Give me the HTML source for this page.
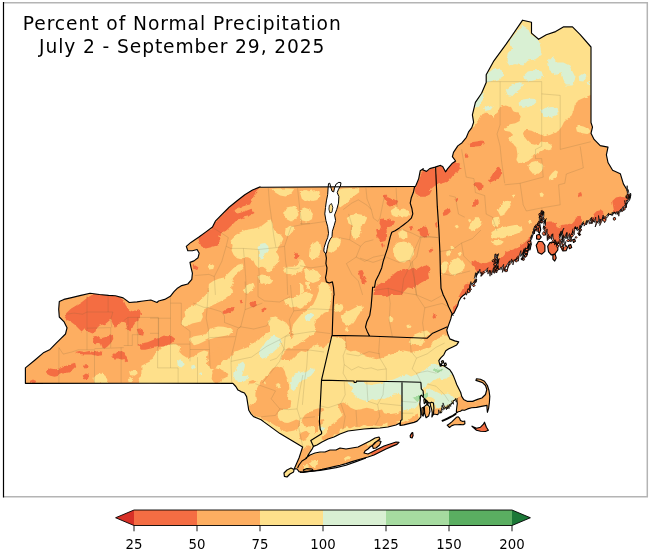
<!DOCTYPE html>
<html><head><meta charset="utf-8"><title>Percent of Normal Precipitation</title>
<style>html,body{margin:0;padding:0;background:#fff}svg{display:block}text{font-family:"DejaVu Sans","Liberation Sans",sans-serif;fill:#000}</style></head><body>
<svg width="650" height="555" viewBox="0 0 650 555">
<rect width="650" height="555" fill="#fff"/>
<defs><clipPath id="land"><path d="M25.4,383.3 L25.4,367.9 L34.7,360.2 L43.9,352.4 L50.1,349.4 L56.2,343.2 L60.8,338.6 L65.5,334 L67,327.8 L63.9,321.6 L59.3,317 L58.7,309.3 L59.3,301.6 L63.9,299.4 L71.6,297.6 L80.9,295.4 L90.1,293.3 L99.4,294.5 L108.6,295.4 L115.4,295.7 L123.1,297.9 L129.3,302.5 L137,301.9 L143.1,301 L150.8,300 L157,302.5 L158.6,301 L164.7,299.4 L170.3,296.3 L174,291.7 L177,288.6 L181.7,285.6 L187.8,284 L191.8,279.4 L192.4,273.2 L190.9,267.1 L190,262.4 L194,260.9 L198,257.8 L199.2,253.2 L197.1,249.5 L192.4,250.7 L187.8,250.7 L186.3,246.4 L190.9,242.4 L198.6,237.2 L206.3,231.6 L212.5,227 L215.6,220.8 L221.7,214.7 L229.4,207 L237.1,200.8 L244.8,194.7 L252.5,190 L260.2,186.9 L260,187.2 L415.6,186.3 L418.7,178.6 L420.2,170.8 L423.3,168.7 L422.6,169.7 L426.5,171.4 L429.7,168.6 L435.1,167.1 L440.5,165.4 L442.7,166.4 L445.5,171.8 L447.7,168.6 L452.4,163.2 L455.6,161 L452.4,156.7 L453.5,152.4 L457.8,145.9 L462.1,142.7 L466.4,137.3 L468.6,131.9 L471.8,127.6 L473.6,122.2 L472.4,114.8 L475.4,102.4 L481.6,93.2 L486.2,82.4 L486.2,74.7 L493.9,60.8 L506.3,43.9 L522.6,20.2 L531.5,22.3 L531.5,33.1 L538.6,39.3 L546.3,34.7 L555.6,31.6 L563.3,26.9 L572.5,26.9 L580.2,34.7 L591,47 L591,122.5 L592.5,127.1 L591,133.3 L594.1,139.4 L600.2,145.6 L608,147.1 L606.4,154.8 L608,162.5 L612.6,170.2 L620.3,173.7 L623.4,183.9 L627.1,190 L629.8,197.4 L628.9,200.2 L625.2,201.1 L626.2,204.8 L623.4,208.5 L619.7,211.2 L616.9,214 L614.2,212.2 L612.3,214.9 L608.6,214 L606.8,216.8 L603.1,217.7 L602.2,220.5 L599.4,219.5 L597.5,222.3 L593.8,221.4 L592,217.7 L590.2,220.5 L587.4,221.4 L585.5,224.2 L582.8,223.2 L580.9,226 L580,231.5 L577.2,229.7 L575.4,226.9 L572.6,231.5 L571.7,236.2 L568.9,238.4 L565.2,237.6 L562.5,235.2 L561.5,231.5 L559.7,235.2 L560.6,239.8 L563.4,242.6 L564.3,246.3 L561.5,245.4 L559.7,243.5 L556.9,242.6 L554.2,239.8 L551,238.4 L548.1,235.4 L545.5,232.1 L543.6,227.8 L544.9,224.2 L543.6,220.5 L543.1,215.8 L541.8,210.7 L540.7,215.8 L541.8,218.1 L539.4,221.4 L537,224.7 L534.8,227.3 L533.8,231.5 L532,236.2 L530.2,241.7 L528.3,247.2 L525.5,252.8 L522.8,257.4 L530.6,244.6 L527.8,248.3 L526,252 L522.3,254.8 L518.6,256.6 L515.8,259.4 L512.2,261.2 L509.4,264 L505.7,266.8 L502.9,268.6 L499.2,269.5 L496.5,267.7 L495.7,260.3 L495.2,254.8 L496.1,254.4 L496.8,260.3 L497.6,267.7 L495.5,270.5 L492.8,272.3 L489.1,270.5 L485.4,271.4 L481.7,273.2 L478.4,272.3 L476.2,275.1 L475.2,277.8 L476.2,281.5 L473.4,283.4 L470.6,284.3 L469.7,288 L467.8,290.8 L466,293.5 L463.2,295.4 L460.5,298.2 L458.6,301.8 L457.7,305.5 L455.8,309.2 L454,312.9 L451.8,314.4 L450.8,318.9 L446.8,330 L447.8,334 L449.8,338.9 L454.7,340.9 L458.7,341.9 L456.7,344.9 L452.7,346.9 L448.8,348.8 L445.8,350.8 L443.8,354.8 L440.8,357.8 L438.8,360.7 L439.8,364.7 L443.8,365.7 L446.8,367.7 L449.8,369.7 L451.7,372.6 L453.7,376.6 L455.3,380.6 L456.7,384.5 L458.7,388.5 L460.7,392.5 L461.7,396.4 L463.6,399.4 L467.6,401.4 L472.6,401.4 L477.5,399.4 L481.9,398 L485.5,394.5 L486.8,389.5 L485.5,385.5 L482.7,382.8 L479.1,381.4 L475.9,380.4 L476.5,378.8 L480.5,379.2 L484.5,381.2 L487.4,385.5 L489,390.5 L489.8,396.4 L489.4,402.4 L488.6,408.3 L487.4,412.3 L487,408.3 L487,405.4 L481.5,406.4 L476.5,407.4 L471.6,407.7 L467.6,408.9 L464.6,410.3 L461.9,410.1 L460.5,411.3 L458.2,411.8 L456.4,412.9 L456.4,410.8 L456.8,407.2 L457.3,403.5 L456.8,400.2 L456.4,398.8 L454.5,400.2 L452.7,401.2 L452,403.5 L450.1,404.8 L448.1,406 L447,408.3 L445.1,407.2 L443.3,406 L442.4,409.2 L440.9,412 L438.8,413.4 L437.5,414.7 L435.2,414.2 L433.5,414.2 L431.9,416.9 L432.3,412.9 L431.6,409.1 L430.6,406 L430.1,403.1 L427.9,402.2 L426.3,400.3 L424.7,399 L423.1,397.1 L421.5,395.2 L420.4,396 L420.2,400.3 L419.9,404.1 L420.4,407.9 L420.8,412.9 L420.9,416.9 L419,419.2 L417.1,421.1 L414,422.4 L408.9,423.6 L403.9,424.9 L400.1,425.5 L400,423 L396,425 L388,427 L380,428 L372,428.4 L364,429 L356,430 L348,431 L340,434 L334,437 L328,439 L322,442 L317,445 L313.4,446.4 L312.4,448.6 L310.2,451.8 L308.1,455.1 L306.5,458.3 L306,458 L310,455 L315,453 L320,452 L325,452 L330,450 L336,450 L340,448 L346,449 L352,448 L358,447 L362,445 L366,443 L370,441 L375,438 L379,437 L380,439 L376,442 L373,445 L370,447 L368,449 L365,451 L364,453 L368,454 L372,452 L378,449 L384,446 L390,444 L396,442 L399,442.4 L397,444.4 L392,446.4 L386,449 L380,452 L374,455 L368,457 L360,459.2 L352,461.6 L346,463.6 L340,465.2 L334,466.6 L328,468 L322,469.4 L314,471 L308,471.6 L303,472.4 L299,471.6 L297,469 L294.4,468.6 L299,458 L301,452 L302.6,447 L280,433.6 L263.9,421.9 L261.1,419.7 L257.5,418.3 L253.8,416.8 L251,413.9 L248.8,410.3 L248.1,406 L247.4,401.7 L246.6,396.6 L244.5,393 L240.9,391.6 L238,390.1 L235.8,386.5 L232.9,383.4 L150,383.2Z M447.2,425.2 L449.5,423.8 L451.8,421.9 L454.1,419.6 L456.4,417.3 L458.2,416.8 L459.6,418.2 L460.5,420.5 L462.8,421.5 L464.7,421 L464.9,423.8 L463.3,424.7 L460.1,424.5 L457.3,424.7 L454.5,424.7 L451.8,425.6 L449.5,427.5Z M472,426.2 L476.5,428.2 L480.5,427.2 L483.5,424.2 L484.5,422.2 L486.4,427.2 L488.4,430.2 L485.5,431.5 L480.5,431.2 L476.5,430.2Z M441.4,361.3 L443,360.5 L443.8,362.5 L442.2,363.3Z M444.2,363.7 L445.8,362.9 L446.4,364.9 L444.8,365.7Z M439.8,364.1 L441.4,363.7 L441.8,365.7 L440.2,366.1Z M372.4,445.6 L375,442.4 L378.4,440.4 L381,441.6 L379.6,445 L376,448 L373.2,448.4Z M410.2,435.6 L411.7,433.1 L412.7,432.5 L413.1,435.6 L412.1,437.9 L410.4,437.5Z M424.3,406.6 L427.2,404.3 L429.4,406.6 L429.9,411.6 L428.6,416.1 L426.1,417.7 L424.7,413.5Z M421.9,407.9 L423.4,407.2 L423.9,411.6 L423.2,416.2 L422.1,414.8Z M423.8,399.7 L425.2,399 L425.7,402.3 L424.3,403.6Z M426.8,400.5 L428.1,402.3 L427.9,405.3 L426.8,403.8Z M455.5,413.6 L452.7,415.5 L449.9,416.8 L447.2,418.2 L444.4,419.6 L442.1,420.5 L442.5,421.2 L444.8,420.3 L447.6,418.9 L450.4,417.5 L453.2,416.1 L455.9,414.3Z M284,473 L287,470 L291,468 L294,469.6 L293.6,472 L290,474 L287,477 L284.4,476.4Z M536.2,245.4 L538.5,241.3 L542.5,241.7 L544.9,245.4 L544.9,251.3 L541.8,254.2 L538.1,252.4Z M536.6,235.2 L539.4,234.3 L541.2,237.1 L539.4,239.5 L536.6,238.9Z M538.5,226 L539.9,225.1 L540.7,229.7 L539.4,233.4 L538.1,231.5Z M547.7,246.3 L549.9,242.6 L554.2,242.1 L557.8,245.4 L557.8,250 L555.1,253.7 L551.4,255 L548.6,251.8Z M552.9,255 L555.1,254.2 L556.2,257.9 L554.7,261.1 L552.9,259.2Z M562.1,246.3 L565.2,245 L567.6,247.2 L566.2,250.6 L562.8,250.9Z M568.4,245.4 L570.8,244.6 L571.7,247.6 L569.5,248.7Z M572.6,239.8 L574.6,239.1 L575.4,241.3 L573.5,242.4Z"/></clipPath><filter id="rag" x="0" y="0" width="650" height="555" filterUnits="userSpaceOnUse"><feTurbulence type="fractalNoise" baseFrequency="0.22" numOctaves="2" seed="3" result="n"/><feDisplacementMap in="SourceGraphic" in2="n" scale="3.2" xChannelSelector="R" yChannelSelector="G"/></filter></defs>
<path d="M3.5,2.8 H647.3 V496.8 H3.5" fill="none" stroke="#b4b4b4" stroke-width="1.5"/>
<path d="M3.5,2 V497.5" fill="none" stroke="#000" stroke-width="1.2"/>
<g clip-path="url(#land)">
<path d="M25.4,383.3 L25.4,367.9 L34.7,360.2 L43.9,352.4 L50.1,349.4 L56.2,343.2 L60.8,338.6 L65.5,334 L67,327.8 L63.9,321.6 L59.3,317 L58.7,309.3 L59.3,301.6 L63.9,299.4 L71.6,297.6 L80.9,295.4 L90.1,293.3 L99.4,294.5 L108.6,295.4 L115.4,295.7 L123.1,297.9 L129.3,302.5 L137,301.9 L143.1,301 L150.8,300 L157,302.5 L158.6,301 L164.7,299.4 L170.3,296.3 L174,291.7 L177,288.6 L181.7,285.6 L187.8,284 L191.8,279.4 L192.4,273.2 L190.9,267.1 L190,262.4 L194,260.9 L198,257.8 L199.2,253.2 L197.1,249.5 L192.4,250.7 L187.8,250.7 L186.3,246.4 L190.9,242.4 L198.6,237.2 L206.3,231.6 L212.5,227 L215.6,220.8 L221.7,214.7 L229.4,207 L237.1,200.8 L244.8,194.7 L252.5,190 L260.2,186.9 L260,187.2 L415.6,186.3 L418.7,178.6 L420.2,170.8 L423.3,168.7 L422.6,169.7 L426.5,171.4 L429.7,168.6 L435.1,167.1 L440.5,165.4 L442.7,166.4 L445.5,171.8 L447.7,168.6 L452.4,163.2 L455.6,161 L452.4,156.7 L453.5,152.4 L457.8,145.9 L462.1,142.7 L466.4,137.3 L468.6,131.9 L471.8,127.6 L473.6,122.2 L472.4,114.8 L475.4,102.4 L481.6,93.2 L486.2,82.4 L486.2,74.7 L493.9,60.8 L506.3,43.9 L522.6,20.2 L531.5,22.3 L531.5,33.1 L538.6,39.3 L546.3,34.7 L555.6,31.6 L563.3,26.9 L572.5,26.9 L580.2,34.7 L591,47 L591,122.5 L592.5,127.1 L591,133.3 L594.1,139.4 L600.2,145.6 L608,147.1 L606.4,154.8 L608,162.5 L612.6,170.2 L620.3,173.7 L623.4,183.9 L627.1,190 L629.8,197.4 L628.9,200.2 L625.2,201.1 L626.2,204.8 L623.4,208.5 L619.7,211.2 L616.9,214 L614.2,212.2 L612.3,214.9 L608.6,214 L606.8,216.8 L603.1,217.7 L602.2,220.5 L599.4,219.5 L597.5,222.3 L593.8,221.4 L592,217.7 L590.2,220.5 L587.4,221.4 L585.5,224.2 L582.8,223.2 L580.9,226 L580,231.5 L577.2,229.7 L575.4,226.9 L572.6,231.5 L571.7,236.2 L568.9,238.4 L565.2,237.6 L562.5,235.2 L561.5,231.5 L559.7,235.2 L560.6,239.8 L563.4,242.6 L564.3,246.3 L561.5,245.4 L559.7,243.5 L556.9,242.6 L554.2,239.8 L551,238.4 L548.1,235.4 L545.5,232.1 L543.6,227.8 L544.9,224.2 L543.6,220.5 L543.1,215.8 L541.8,210.7 L540.7,215.8 L541.8,218.1 L539.4,221.4 L537,224.7 L534.8,227.3 L533.8,231.5 L532,236.2 L530.2,241.7 L528.3,247.2 L525.5,252.8 L522.8,257.4 L530.6,244.6 L527.8,248.3 L526,252 L522.3,254.8 L518.6,256.6 L515.8,259.4 L512.2,261.2 L509.4,264 L505.7,266.8 L502.9,268.6 L499.2,269.5 L496.5,267.7 L495.7,260.3 L495.2,254.8 L496.1,254.4 L496.8,260.3 L497.6,267.7 L495.5,270.5 L492.8,272.3 L489.1,270.5 L485.4,271.4 L481.7,273.2 L478.4,272.3 L476.2,275.1 L475.2,277.8 L476.2,281.5 L473.4,283.4 L470.6,284.3 L469.7,288 L467.8,290.8 L466,293.5 L463.2,295.4 L460.5,298.2 L458.6,301.8 L457.7,305.5 L455.8,309.2 L454,312.9 L451.8,314.4 L450.8,318.9 L446.8,330 L447.8,334 L449.8,338.9 L454.7,340.9 L458.7,341.9 L456.7,344.9 L452.7,346.9 L448.8,348.8 L445.8,350.8 L443.8,354.8 L440.8,357.8 L438.8,360.7 L439.8,364.7 L443.8,365.7 L446.8,367.7 L449.8,369.7 L451.7,372.6 L453.7,376.6 L455.3,380.6 L456.7,384.5 L458.7,388.5 L460.7,392.5 L461.7,396.4 L463.6,399.4 L467.6,401.4 L472.6,401.4 L477.5,399.4 L481.9,398 L485.5,394.5 L486.8,389.5 L485.5,385.5 L482.7,382.8 L479.1,381.4 L475.9,380.4 L476.5,378.8 L480.5,379.2 L484.5,381.2 L487.4,385.5 L489,390.5 L489.8,396.4 L489.4,402.4 L488.6,408.3 L487.4,412.3 L487,408.3 L487,405.4 L481.5,406.4 L476.5,407.4 L471.6,407.7 L467.6,408.9 L464.6,410.3 L461.9,410.1 L460.5,411.3 L458.2,411.8 L456.4,412.9 L456.4,410.8 L456.8,407.2 L457.3,403.5 L456.8,400.2 L456.4,398.8 L454.5,400.2 L452.7,401.2 L452,403.5 L450.1,404.8 L448.1,406 L447,408.3 L445.1,407.2 L443.3,406 L442.4,409.2 L440.9,412 L438.8,413.4 L437.5,414.7 L435.2,414.2 L433.5,414.2 L431.9,416.9 L432.3,412.9 L431.6,409.1 L430.6,406 L430.1,403.1 L427.9,402.2 L426.3,400.3 L424.7,399 L423.1,397.1 L421.5,395.2 L420.4,396 L420.2,400.3 L419.9,404.1 L420.4,407.9 L420.8,412.9 L420.9,416.9 L419,419.2 L417.1,421.1 L414,422.4 L408.9,423.6 L403.9,424.9 L400.1,425.5 L400,423 L396,425 L388,427 L380,428 L372,428.4 L364,429 L356,430 L348,431 L340,434 L334,437 L328,439 L322,442 L317,445 L313.4,446.4 L312.4,448.6 L310.2,451.8 L308.1,455.1 L306.5,458.3 L306,458 L310,455 L315,453 L320,452 L325,452 L330,450 L336,450 L340,448 L346,449 L352,448 L358,447 L362,445 L366,443 L370,441 L375,438 L379,437 L380,439 L376,442 L373,445 L370,447 L368,449 L365,451 L364,453 L368,454 L372,452 L378,449 L384,446 L390,444 L396,442 L399,442.4 L397,444.4 L392,446.4 L386,449 L380,452 L374,455 L368,457 L360,459.2 L352,461.6 L346,463.6 L340,465.2 L334,466.6 L328,468 L322,469.4 L314,471 L308,471.6 L303,472.4 L299,471.6 L297,469 L294.4,468.6 L299,458 L301,452 L302.6,447 L280,433.6 L263.9,421.9 L261.1,419.7 L257.5,418.3 L253.8,416.8 L251,413.9 L248.8,410.3 L248.1,406 L247.4,401.7 L246.6,396.6 L244.5,393 L240.9,391.6 L238,390.1 L235.8,386.5 L232.9,383.4 L150,383.2Z M447.2,425.2 L449.5,423.8 L451.8,421.9 L454.1,419.6 L456.4,417.3 L458.2,416.8 L459.6,418.2 L460.5,420.5 L462.8,421.5 L464.7,421 L464.9,423.8 L463.3,424.7 L460.1,424.5 L457.3,424.7 L454.5,424.7 L451.8,425.6 L449.5,427.5Z M472,426.2 L476.5,428.2 L480.5,427.2 L483.5,424.2 L484.5,422.2 L486.4,427.2 L488.4,430.2 L485.5,431.5 L480.5,431.2 L476.5,430.2Z M441.4,361.3 L443,360.5 L443.8,362.5 L442.2,363.3Z M444.2,363.7 L445.8,362.9 L446.4,364.9 L444.8,365.7Z M439.8,364.1 L441.4,363.7 L441.8,365.7 L440.2,366.1Z M372.4,445.6 L375,442.4 L378.4,440.4 L381,441.6 L379.6,445 L376,448 L373.2,448.4Z M410.2,435.6 L411.7,433.1 L412.7,432.5 L413.1,435.6 L412.1,437.9 L410.4,437.5Z M424.3,406.6 L427.2,404.3 L429.4,406.6 L429.9,411.6 L428.6,416.1 L426.1,417.7 L424.7,413.5Z M421.9,407.9 L423.4,407.2 L423.9,411.6 L423.2,416.2 L422.1,414.8Z M423.8,399.7 L425.2,399 L425.7,402.3 L424.3,403.6Z M426.8,400.5 L428.1,402.3 L427.9,405.3 L426.8,403.8Z M455.5,413.6 L452.7,415.5 L449.9,416.8 L447.2,418.2 L444.4,419.6 L442.1,420.5 L442.5,421.2 L444.8,420.3 L447.6,418.9 L450.4,417.5 L453.2,416.1 L455.9,414.3Z M284,473 L287,470 L291,468 L294,469.6 L293.6,472 L290,474 L287,477 L284.4,476.4Z M536.2,245.4 L538.5,241.3 L542.5,241.7 L544.9,245.4 L544.9,251.3 L541.8,254.2 L538.1,252.4Z M536.6,235.2 L539.4,234.3 L541.2,237.1 L539.4,239.5 L536.6,238.9Z M538.5,226 L539.9,225.1 L540.7,229.7 L539.4,233.4 L538.1,231.5Z M547.7,246.3 L549.9,242.6 L554.2,242.1 L557.8,245.4 L557.8,250 L555.1,253.7 L551.4,255 L548.6,251.8Z M552.9,255 L555.1,254.2 L556.2,257.9 L554.7,261.1 L552.9,259.2Z M562.1,246.3 L565.2,245 L567.6,247.2 L566.2,250.6 L562.8,250.9Z M568.4,245.4 L570.8,244.6 L571.7,247.6 L569.5,248.7Z M572.6,239.8 L574.6,239.1 L575.4,241.3 L573.5,242.4Z" fill="#fdae61"/>
<g filter="url(#rag)">
<path d="M470,129.7 L474.3,126.4 L478.6,121 L481.9,114.6 L486.2,112.4 L490.5,115.6 L493.8,117.8 L497,112.4 L500.2,107 L505.6,105.5 L511,107 L513.2,111.3 L518.6,112.4 L520.8,115.6 L519.7,121 L515.4,123.2 L510,124.3 L505.6,127.5 L504.6,130.8 L510,131.8 L513.2,135.1 L510,137.2 L508.9,140.5 L513.2,143.7 L516.4,148 L517.5,154.5 L516.4,159.9 L518.6,163.2 L525.1,162.1 L529.4,159.9 L533.7,156.7 L537,153.4 L540.2,151.3 L544.5,149.1 L548.9,150.2 L552.1,149.1 L551,144.8 L546.7,142.6 L542.4,141.6 L539.1,143.7 L534.8,144.8 L530.5,143.7 L527.2,140.5 L524,136.2 L522.9,131.8 L526.2,129.7 L531.6,130.8 L535.9,132.9 L540.2,134 L544.5,136.2 L549.9,135.1 L554.3,132.9 L558.6,130.8 L561.8,126.4 L564,122.1 L567.2,118.9 L571.5,115.6 L573.7,110.2 L574.8,104.8 L578,100.5 L582.3,98.4 L587.7,96.2 L593.1,94 L593.1,4.4 L470,4.4Z M575.9,127.5 L579.1,125.4 L583.4,126.4 L587.7,128.6 L589.9,131.8 L586.7,134 L581.3,132.9 L576.9,131.4Z M528.3,165.3 L531.6,162.1 L535.9,161 L540.2,163.2 L543.4,166.4 L541.3,170.7 L537,174 L532.6,173.3 L529.4,169.7Z M548.9,177.2 L552.1,172.9 L555.3,170.3 L558.1,171.8 L556.4,176.1 L553.2,179.8 L549.9,180.5Z M539.6,193.4 L541.7,191.3 L543.9,193.4 L543,196.7 L540.4,196.7Z M500,205.1 L503.2,201.8 L507.6,200.7 L509.7,205.1 L507.6,209.4 L503.2,211.5 L500,211.5Z M528.1,221.3 L530.7,220.2 L532,222.8 L529.4,224.1Z M442,263.1 L444.8,261.2 L447.5,262.2 L447.5,267.7 L445.7,272.3 L442.9,274.2 L441.4,270.5 L441.1,265.8Z M449.4,264.9 L453.1,259.4 L457.7,257.5 L462.3,260.3 L465.1,264.9 L464.2,269.5 L460.5,272.3 L455.8,274.2 L452.2,275.1 L449.4,272.3 L448.5,268.6Z M445.7,252.9 L448.5,251.1 L450.3,253.3 L448.1,255.7Z M450.3,247.4 L452.5,246.5 L453.6,248.9 L451.2,249.6Z M490.9,240.9 L494.6,240 L500.2,240 L503.8,241.8 L501.1,244.6 L496.5,245.5 L492.8,244.1Z M457.7,252.9 L460.5,252 L461.8,254.8 L459.2,256.2Z M497.8,210.7 L501,205.3 L505.3,201 L509.7,201 L510.7,205.3 L507.5,209.7 L504.3,214 L500.4,216.1Z M491.3,221.5 L494.5,217.2 L498.9,216.8 L499.9,221.5 L497.8,225.9 L493.4,226.9Z M468.6,228 L471.8,221.5 L475.1,217.2 L479.4,217.2 L481.6,221.5 L479.4,226.9 L475.1,230.2 L470.8,231.3Z M491.3,232.3 L496.7,229.1 L503.2,226.9 L509.7,225.9 L516.1,224.8 L521.5,225.9 L522.6,230.2 L517.2,233.4 L510.7,235.6 L504.3,237.7 L497.8,238.8 L492.4,237.7Z M454.6,225.9 L457.2,224.8 L458.9,226.9 L456.7,228.4Z M468,219.8 L470.1,218.9 L471.4,221.1 L469.3,222.4Z M511.8,195.6 L514,194.5 L515.1,196.7 L512.9,197.8Z M393.5,250.5 L395.6,245.1 L400,243 L405.4,242.5 L410.8,245.1 L412.9,250.5 L411.8,255.9 L408.6,260.2 L404.3,262.4 L400,262 L396.3,259.2 L394.1,254.8Z M398.9,233.2 L402.1,231.1 L405.8,232.2 L407.1,236 L404.3,239.1 L400.6,238.2Z M446.4,251.6 L449.7,249.9 L451.8,252.7 L449.7,255.5 L446.8,254.8Z M388.1,318.6 L391.3,316.4 L393.5,319 L392,322.5 L388.5,321.8Z M408.6,342.3 L411.8,338 L416.2,333.7 L421.6,331.5 L427,330.5 L430.2,333.3 L425.9,336.9 L420.5,339.1 L416.2,341.3 L411.8,344.1Z M435.6,340.2 L441,338 L446.4,336.9 L449.7,338 L452.9,340.6 L457.6,342.3 L455.1,345.6 L449.7,346.7 L443.2,345.6 L437.8,344.5Z M406.4,326.1 L410.8,325.5 L411.8,327.6 L407.5,328.3Z M360,305.6 L362.6,306.7 L363.2,311 L360,312.1Z M305.4,194.4 L309.7,191.2 L315.1,190.1 L319.4,192.3 L320.5,196.6 L317.3,199.8 L311.9,200.9 L307.6,199.2Z M300,209.6 L304.3,207.4 L309.7,209.6 L313,213.9 L311.9,219.3 L307.6,221.4 L302.2,220.4 L300,218.2Z M337.8,190.1 L343.2,188.4 L350.8,188 L358.3,188.4 L360.5,191.2 L356.2,194.4 L351.8,197.7 L347.5,202 L343.2,205.2 L340,207.4 L337.8,204.2 L338.9,197.7Z M346.4,218.2 L350.8,215 L357.2,213.9 L363.7,215 L367,218.2 L364.8,223.6 L360.5,226.8 L361.6,232.2 L359.4,237.6 L355.1,238.7 L351.8,235.5 L350.8,230.1 L352.9,225.8 L348.6,223.6Z M309.7,248.4 L313,243 L317.3,240.9 L320.5,244.1 L321.6,249.5 L319.4,254.9 L316.2,259.3 L311.9,260.3 L309.1,254.9Z M327,242 L331.3,238.7 L336.7,237.6 L341,239.8 L340,245.2 L336.7,249.5 L332.4,252.8 L328.1,251.7Z M306.5,272.2 L311.9,270.1 L317.3,271.1 L320.5,275.5 L318.4,280.9 L313,283 L307.6,280.9 L305.4,276.5Z M318.4,285.2 L322.7,281.9 L327,283 L330.2,287.3 L331.3,294.9 L319.4,294.9Z M300,259.3 L303.2,261.4 L304.3,266.8 L302.2,271.1 L300,272.2Z M390.7,210.6 L395.1,207.4 L399.4,209.6 L403.7,208.5 L408,210.6 L410.2,215 L405.9,217.1 L400.5,216 L396.1,217.1 L391.8,215Z M392.9,247.4 L397.2,243 L403.7,241.5 L410.2,243 L413.4,247.4 L414.1,253.9 L411.3,259.3 L405.9,261.8 L400.5,261.4 L396.1,258.2 L393.3,252.8Z M398.3,232.2 L402.6,230.1 L406.9,232.2 L407.6,236.6 L403.7,239.4 L399.4,238.1Z M300,283 L303.2,285.2 L304.3,291.7 L300,294.9Z M230.5,239.8 L234.8,235.5 L240.2,232.2 L245.6,230.1 L251,229 L256.4,227.9 L261.8,225.8 L266.1,222.5 L270.5,219.3 L272.6,223.6 L273.7,229 L276.9,233.3 L281.3,235.5 L283.4,238.7 L281.3,243 L278,247.4 L276.9,252.8 L279.1,257.1 L278,262.5 L274.8,265.7 L271.5,270.1 L268.3,272.2 L266.1,269 L262.9,266.8 L258.6,267.9 L255.3,264.7 L253.2,260.3 L249.9,258.2 L245.6,257.1 L241.3,259.3 L237,258.2 L233.7,254.9 L231.6,250.6 L232.6,245.2Z M271.5,189 L278,188.4 L286.7,188.4 L294.2,189 L291,193.4 L285.6,196.6 L280.2,195.5 L274.8,192.3Z M284.5,211.7 L287.7,207.4 L293.1,206.3 L297.5,209.6 L298.5,215 L295.3,219.3 L291,221.4 L286.7,219.3 L284.1,216Z M285.6,229 L289.9,225.8 L294.2,226.8 L293.1,231.2 L289.9,234.4 L286.7,236.6 L284.9,233.3Z M299.6,191.2 L305,190.1 L310,191.2 L310,200.9 L306.1,202 L301.8,198.8Z M283.4,269 L287.7,266.8 L293.1,266.8 L298.5,263.6 L299.6,259.3 L302.9,260.3 L305,264.7 L301.8,270.1 L297.5,273.3 L292.1,275.5 L286.7,274.4Z M207.8,265.7 L211,263.6 L214.3,265.7 L213.2,269 L208.9,269.6Z M225.1,276.5 L229.4,272.2 L233.7,267.9 L238,264.7 L242.4,263.6 L243.4,266.8 L240.2,271.1 L235.9,274.4 L232.6,278.7 L228.3,281.9 L225.1,280.9Z M208.9,284.1 L213.2,280.9 L218.6,278.7 L224,277.6 L228.3,281.9 L231.6,285.2 L228.3,289.5 L224,292.7 L218.6,294.9 L211,294.9 L208.5,289.5Z M257.5,276.5 L261.8,274.4 L267.2,275.5 L271.5,278.7 L270.5,283 L266.1,284.1 L260.7,282.6Z M245.6,287.3 L248.9,284.1 L253.2,283 L254.3,287.3 L251,291.7 L246.7,292.7Z M303.9,270.1 L308.3,269 L310,270.1 L310,276.5 L305.7,276.1Z M305,283 L310,281.9 L310,289.5 L306.1,288.4Z M93.4,377.9 L96.7,374.7 L101,373.6 L105.3,375.7 L107.5,380.1 L106.4,383.3 L94.5,383.3Z M129.1,371.4 L132.3,369.3 L136.7,370.3 L137.7,373.6 L134.5,375.7 L130.2,375.3Z M128,379 L131.3,377.9 L133.4,380.1 L131.3,382.2 L128.4,381.8Z M138.8,381.1 L138.8,377.9 L143.1,374.7 L147.5,371.4 L151.8,368.2 L156.1,364.9 L162.6,361.7 L171.2,358.4 L171.2,383.3 L141,383.3Z M138.8,383.7 L139.7,377.2 L144.3,373.5 L149.8,370.8 L153.5,366.2 L156.3,360.6 L157.2,353.2 L160.9,347.7 L166.5,344.9 L173.8,344 L177.5,347.7 L179.4,353.2 L183.1,356.9 L188.6,358.8 L188.6,383.7Z M184.6,310.6 L188.9,307.4 L194.3,305.2 L198.6,302 L202.9,297.7 L207.2,293.4 L211.6,289 L215.9,285.8 L221.3,283.6 L226.7,281.5 L231,279.3 L233.2,282.6 L231,286.9 L233.2,291.2 L229.9,295.5 L225.6,298.8 L221.3,300.9 L217,303.1 L212.6,305.2 L208.3,307.4 L205.1,309.6 L201.8,312.8 L202.9,317.1 L200.8,321.4 L196.4,322.5 L192.1,323.6 L187.8,325.8 L183.5,326.8 L181.3,323.6 L182.4,319.3 L185.6,316 L184.6,312.8Z M208.3,330.1 L212.6,327.9 L218,326.4 L223.4,326.8 L228.9,327.9 L233.2,330.1 L231,333.3 L226.7,335.5 L221.3,336.6 L215.9,337.6 L211.6,338.7 L207.2,339.8 L202.9,342 L198.6,344.1 L194.3,345.2 L191,343 L190,338.7 L193.2,336.6 L198.6,335.5 L204,334.4 L207.9,332.9Z M242.9,290.1 L246.1,286.9 L250.5,284.7 L253.7,283.6 L254.8,286.9 L251.5,290.1 L248.3,293.4 L244.6,294Z M259.1,277.2 L264.5,276.1 L269.9,277.2 L273.1,280.4 L271,283.6 L266.7,283.2 L262.3,281.5Z M283.9,299.8 L290,297.7 L290,305.2 L286.1,305.2Z M267.7,321.4 L271,318.2 L275.3,317.1 L277.5,320.4 L274.2,323.6 L269.9,325.8Z M141.4,365.7 L150,361.4 L153.2,357.1 L157.6,350.6 L163,347.4 L169.4,345.2 L175.9,344.1 L180.2,347.4 L179.2,351.7 L182.4,354.9 L187.8,358.2 L193.2,357.1 L198.6,352.8 L204,350.6 L208.3,351.7 L207.2,357.1 L208.3,363.6 L210.5,367.9 L214.8,370.1 L219.1,367.9 L223.4,364.7 L226.7,360.3 L231,356 L235.3,351.7 L240.7,349.5 L246.1,347.4 L251.5,344.1 L256.9,340.9 L262.3,337.6 L266.7,333.3 L271,331.2 L277.5,332.2 L282.9,331.2 L288.3,330.1 L290,329 L290,346.3 L286.1,349.5 L282.9,354.9 L279.6,361.4 L275.3,366.8 L269.9,371.1 L264.5,374.4 L259.1,377.6 L253.7,380.9 L249.4,383 L245.1,387.3 L240.7,391.7 L233.2,385.2 L141.4,385.2Z M286.2,301.2 L291.6,298 L297,295.8 L302.4,293.6 L308.9,292.6 L313.2,294.7 L312.1,299 L307.8,302.3 L304.6,306.6 L300.2,308.8 L295.9,306.6 L291.6,307.7 L287.7,305.5Z M297,319.6 L302.4,313.1 L307.8,308.8 L313.2,304.4 L316.4,298 L318.6,291.5 L321.8,288.2 L326.6,287.2 L330.5,290.4 L331.6,296.9 L330.5,304.4 L328.3,310.9 L324,313.1 L320.8,316.3 L316.4,319.6 L314.3,325 L316.4,330.4 L313.2,334.7 L308.9,336.8 L304.6,340.1 L300.2,343.3 L295.9,345.5 L291.6,348.7 L288.4,347.6 L287.3,343.3 L290.5,339 L293.8,334.7 L291.6,330.4 L292.7,325Z M270,317.4 L275.4,316.3 L280.8,319.6 L286.2,322.8 L289.4,327.1 L288.4,332.5 L285.1,336.8 L280.8,335.8 L276.5,336.8 L272.2,335.8 L270,336.8Z M270,349.8 L276.5,347.6 L280.8,358.4 L284,363.9 L288.4,360.6 L292.7,358.4 L297,354.1 L301.3,350.9 L305.6,352 L310,349.8 L313.2,345.5 L317.5,344.4 L321.8,347.6 L326.6,349.8 L326.6,356.3 L320.8,379.6 L321.4,414.6 L270,414.6Z M341.3,317.4 L344.5,313.1 L348.9,310.9 L353.2,308.8 L357.5,306.6 L360.7,305.5 L362.9,307.7 L360.7,312 L357.5,316.3 L355.3,320.6 L352.1,325 L348.9,326 L345.6,323.9 L342.4,321.7Z M334.8,304.4 L338,303.4 L342.4,304.4 L343.4,307.7 L340.2,310.9 L335.9,312 L334.4,308.8Z M344.5,328.2 L347.3,327.1 L348.9,330.4 L346,332.1Z M387.7,317.4 L390.5,315.7 L392.7,317.8 L391,321.3 L388.4,320.6Z M200,360 L340,360 L340,479.9 L200,479.9Z M315,353.8 L322.6,351.6 L328,343 L332.3,336.5 L336.6,337.6 L343.1,338.6 L345.2,343 L346.3,349.4 L350.6,351.6 L355,350.5 L360.4,352.7 L365.8,355.9 L371.2,358.1 L376.6,359.2 L382,358.1 L387.4,355.9 L392.8,353.8 L398.2,351.6 L403.6,350.5 L409,351.6 L414.4,351.6 L419.8,350.5 L425.2,348.4 L430.6,346.2 L433.8,340.8 L438.1,337.6 L444.6,335.4 L479.2,335.4 L479.2,451 L315,451Z" fill="#fee08b"/>
<path d="M207.2,357.1 L210.5,353.9 L214.8,351.7 L217,347.4 L220.2,346.3 L222.4,349.5 L221.3,354.9 L224.5,358.2 L221.3,362.5 L217,365.7 L214.8,370.1 L210.5,367.9 L208.3,363.6Z M212.6,372.2 L217,370.1 L221.3,372.2 L223.4,376.5 L221.3,381.9 L214.8,384.1 L211.6,378.7Z M270,370.3 L275.4,368.2 L280.8,370.3 L285.1,374.7 L287.3,381.1 L286.2,388.7 L288.4,395.2 L287.3,404.9 L270,404.9Z M248.8,406 L251,403.8 L254.6,402.4 L256,399.5 L255.3,395.2 L256,390.9 L257.5,387.3 L259.6,383.7 L262.5,380 L265.4,377.2 L268.3,375 L285.6,375 L287.7,379.3 L288.5,385.1 L287.7,390.9 L287,396.6 L288.5,400.2 L291.3,401.7 L290.6,406 L287.7,408.9 L284.1,409.6 L280.5,410.3 L278.4,413.2 L277.6,416.8 L279.8,420.4 L284.1,422.6 L289.2,423.3 L293.5,421.9 L297.1,420.4 L300,421.2 L299.3,425.5 L297.1,428.4 L294.2,430.5 L290.6,431.3 L287,430.5 L282.7,429.8 L278.4,427.6 L274,424.8 L269.7,421.9 L266.1,420.4 L263.2,419.7 L260.3,417.6 L257.5,416.8 L254.6,415.4 L251.7,413.2 L249.5,409.6Z M268.3,375 L269.7,372.1 L272.6,368.5 L275.5,367.1 L279.8,366.3 L282.7,367.8 L284.9,371.4 L285.6,375Z M305.8,416.8 L309.4,413.9 L313,411.8 L317.3,410.3 L317.3,425.5 L311.5,426.2 L307.9,425.5 L304.3,424 L302.2,421.2Z M299.4,435.6 L302.6,432.4 L306.9,431.3 L309.1,434.5 L306.9,438.9 L303.7,441 L300.5,439.5Z M303.7,448.6 L308,445.3 L311.3,446.4 L309.1,451.8 L305.9,457.2 L301.5,463.7 L298.3,468 L297.2,463.7 L300.5,458.3 L303.3,454Z M211.9,370.8 L216.2,368.6 L221.6,369.7 L225.9,371.9 L228.1,376.2 L223.8,378.4 L218.4,377.3 L214,376.2Z M206.5,362.2 L210.8,360 L217.3,360 L216.2,364.3 L211.9,366.5 L207.6,366Z M248.6,381.6 L252.9,379.9 L256.6,381.2 L254,383.3 L249.7,383.8Z M337.7,404.5 L343.1,402.4 L347.4,404.5 L350.6,407.8 L356,409.9 L361.4,408.9 L366.8,407.8 L372.2,408.9 L377.6,410.4 L382,409.5 L384.1,413.2 L389.5,414.3 L396,413.2 L401,412.1 L401,420.7 L396,421.8 L390.6,420.7 L386.3,422.9 L382,425.1 L377.6,426.1 L372.2,425.1 L367.9,426.1 L363.6,425.1 L359.3,427.2 L355,426.1 L350.6,428.3 L346.3,427.2 L342,429.4 L337.7,430.5 L333.4,432.6 L330.1,433.7 L326.9,431.5 L328,427.2 L332.3,424 L336.6,421.8 L339.8,418.6 L342,414.3 L339.8,409.9Z M400.1,422.4 L403.9,421.7 L407.7,419.8 L411.5,417.3 L415.2,414.8 L417.8,413.5 L418.8,418.6 L417.1,421.7 L414,423 L408.9,424.3 L403.9,425.5 L400.1,426.2Z M387.5,419.8 L393.8,421.1 L397.6,422.4 L400.1,422.4 L400.1,426.2 L387.5,428Z M432.3,411.6 L434.2,409.1 L437.9,408.5 L441.7,407.9 L443,409.7 L440.5,412.3 L437.9,414.2 L434.8,415.4 L432.9,414.8Z M424.1,406.6 L428.5,406.6 L428.5,417.9 L420.9,417.9 L420.9,407.9Z M456.9,397.4 L460.7,396.4 L463.6,399.4 L472.6,401.4 L481.5,397.4 L485.5,389.5 L479.5,380.6 L473.6,379.6 L475.5,376.6 L485.5,378.6 L492.4,389.5 L492.4,415.3 L457.7,415.3Z M443.8,417.3 L467.6,415.3 L467.6,429.2 L443.8,429.2Z M315,414.3 L318.2,415.3 L318.2,431.5 L315,433.7Z M292,460 L306,457 L340,446 L384,434 L404,440 L368,460 L300,475 L292,472Z M301.6,420 L304.8,415.1 L309.2,411.9 L313.5,409.7 L317.8,408.6 L323.2,408.1 L324.3,410.3 L321,411.9 L320,415.1 L316.7,415.7 L314.6,417.3 L314,420 L317.3,420.5 L321,419.4 L325.4,418.9 L324.3,421.6 L321,423.8 L317.8,425.4 L313.5,425.9 L309.2,426.5 L305.4,425.9 L302.7,423.8Z M299.4,434.6 L301.6,432.4 L304.8,431.3 L308.1,431.9 L309.2,434.6 L307,437.3 L304.3,438.3 L302.1,440 L300.5,437.8Z M321.6,436.7 L325.4,434.6 L328.6,432.4 L331.8,429.2 L332.9,424.8 L336.2,423.2 L339.4,424.8 L340.5,429.2 L338.3,433.5 L334,436.2 L329.7,438.3 L325.4,440.5 L322.1,439.4Z M280,421.6 L284.3,423.2 L288.6,422.7 L293,421.1 L296.2,419.4 L299.4,420.5 L300,424.8 L297.3,427 L293,428.1 L289.7,431.3 L286.5,431.9 L283.2,430.2 L280,429.2Z M280,400 L290.8,400 L290.3,404.3 L287.6,407.6 L283.2,409.2 L280,408.6Z M301.6,448.1 L305.4,450.8 L304.3,456.2 L301.6,460.5 L298.4,460.5Z" fill="#fdae61"/>
<path d="M276.2,385.1 L278.4,383.9 L280.5,385.8 L279.5,388.3 L276.9,388Z M262.8,382.2 L265.1,381.5 L266.1,383.7 L264.2,385.1Z M410.1,339.7 L416.5,338.6 L423,339.7 L426.3,343 L420.9,345.1 L414.4,344.7 L410.1,343Z M405.1,388.9 L408.9,386.4 L414,385.1 L419,384.5 L420.9,386.4 L419,388.9 L415.2,391.5 L411.5,392.7 L407.7,394.6 L405.1,393.3Z M310,463 L313,460 L317,460 L318,464 L315,467 L311,467Z M304,466 L307,464.4 L309,467 L307,469.6 L304,469Z M344,458 L348,456 L351,457 L349,460 L345,461Z M366,443 L370,441 L375,438.4 L378.4,437.6 L376.4,441 L372,444 L368,446Z M282,468 L296,467 L296,478 L282,478Z" fill="#fee08b"/>
<path d="M509.3,40.8 L517,31.6 L522.6,25.4 L527.8,28.5 L530.9,34.7 L538.6,39.3 L540.2,47 L541.7,54.7 L535.5,59.3 L527.8,60.8 L523.2,65.5 L515.5,63.9 L509.3,65.5 L506.3,60.8 L507.8,53.1 L512.4,48.5Z M486.2,74.7 L493.9,68.6 L501.6,70.1 L503.2,76.3 L498.6,79.3 L492.4,80.9 L486.2,82.4Z M523.2,76.3 L527.8,71.6 L535.5,70.1 L541.7,71.6 L543.2,76.3 L538.6,79.3 L530.9,80.9 L524.7,80.3Z M547.9,60.8 L552.5,56.2 L557.1,62.4 L563.3,62.4 L569.4,65.5 L572.5,71.6 L575.6,77.8 L572.5,85.5 L566.3,85.5 L563.3,79.3 L561.7,73.2 L555.6,74.7 L549.4,70.1Z M578.7,76.3 L583.3,73.2 L586.4,76.3 L583.3,81.5 L579.3,80.9Z M505.6,89.7 L510,86.5 L515.4,83.2 L520.8,82.2 L524,84.3 L520.8,88.6 L516.4,91.9 L512.1,96.2 L507.8,95.1Z M518.6,102.7 L522.9,99.4 L529.4,98.4 L534.8,99 L537,101.6 L533.7,104.8 L528.3,107 L522.9,107.7 L519.3,105.9Z M541.3,110.2 L545.6,107.7 L552.1,107 L557.5,108.1 L558.6,111.3 L554.3,114.6 L548.9,116.3 L543.4,115.6Z M484,108.1 L488.4,105.5 L492.7,107 L490.5,109.8 L486.2,110.7Z M474.3,103.8 L478.6,97.3 L481.9,93 L485.1,94 L483,99.4 L479.7,104.8 L476.5,108.1Z M586.7,82.2 L589.9,81.1 L590.5,84.3 L587.7,84.8Z M542.1,110 L558.3,110 L557.2,114.3 L552.9,116.5 L547.5,117.6 L543.2,115.4Z M257.5,247.4 L260.7,243.7 L265.1,243 L268.3,246.3 L268.9,250.6 L266.1,253.9 L262.9,254.9 L264,258.2 L260.7,259.7 L258.6,257.1 L259,252.8Z M259.1,351.7 L262.3,347.4 L265.6,342 L269.9,337.6 L275.3,336.6 L280.7,338.7 L281.8,343 L278.5,347.4 L274.2,349.5 L271,353.9 L266.7,357.1 L262.3,358.8 L259.1,356Z M234.3,373.3 L236.4,367.9 L239.7,363.6 L242.9,361.4 L245.1,364.7 L244,370.1 L241.8,374.4 L245.1,376.5 L248.3,375.5 L247.2,379.8 L242.9,381.9 L238.6,381.9 L235.3,378.7Z M177,361.4 L180.2,359.3 L183.5,361 L184.6,364.7 L181.3,367.5 L178.1,365.7Z M191,365.7 L194.3,364.7 L195.8,367.5 L193.2,369.6Z M199.3,373.3 L201.4,372.2 L202.3,374.8 L200.1,376.1Z M270,336.8 L274.3,335.8 L278.6,337.9 L280.8,342.2 L278.6,347.6 L274.3,350.9 L270,352Z M304.6,317.4 L307.8,314.2 L312.1,313.1 L313.2,316.3 L310,319.6 L306.3,321.3Z M291.6,377.9 L294.8,373.6 L299.2,371.4 L304.6,372.5 L310,370.3 L313.2,368.2 L314.3,371.4 L311,375.7 L306.7,377.9 L302.4,380.1 L299.2,383.3 L297,387.6 L293.8,390.9 L290.5,388.7 L291.6,383.3Z M234.6,373 L236.7,367.6 L240,363.2 L243.2,362.2 L244.9,365.4 L243.2,370.8 L241,375.1 L238.9,379.4 L235.6,380.5 L234.1,377.3Z M244.3,376.2 L247.1,375.1 L248.6,377.7 L245.8,379.4Z M290.7,383.8 L292.9,378.4 L295.1,374 L298.3,371.9 L301.5,374 L300.5,379.4 L298.3,383.8 L296.1,388.1 L292.9,390.2 L290.7,388.1Z M302.6,376.2 L305.9,373 L309.1,369.7 L312.8,368.6 L314.1,371.9 L311.3,375.1 L308,377.3 L304.8,379.4Z M319.9,428 L322.7,426.5 L324.2,429.1 L321.6,430.9Z M347.4,381.8 L352.8,382.9 L357.1,381.8 L363.6,381.4 L365.8,384 L370.1,385.1 L376.6,384 L382,382.9 L386.3,380.8 L392.8,379.7 L398.2,377.5 L401.4,375.8 L406.8,374.3 L411.1,376.4 L416.5,374.3 L421.9,372.1 L427.3,368.9 L432.7,365.6 L437.1,364.6 L442.5,366.7 L446.8,370 L444.6,374.3 L439.2,376.4 L434.9,378.6 L431.7,381.8 L427.3,385.1 L423,388.3 L420.9,392.6 L416.5,393.7 L413.3,397 L410.1,401.3 L407.9,405.6 L405.7,409.9 L402.5,412.1 L401.4,403.4 L401.4,394.8 L398.2,393.7 L393.9,394.8 L388.4,397 L384.1,399.1 L379.8,398 L376.6,400.2 L372.2,399.1 L367.9,401.3 L363.6,400.2 L359.3,398.7 L356,395.9 L352.8,393.7 L350.6,390.5 L352.8,387.2 L349.6,385.1Z M402,382.6 L420.9,382.6 L421.3,388.9 L423.1,390.8 L423.4,394.6 L420.3,395.9 L418.8,400.3 L418.4,404.1 L417.1,406.6 L414,407.9 L410.2,409.1 L406.4,409.7 L403.2,411.6 L402,407.9Z M420,372.6 L424,369.7 L428.9,366.7 L432.9,363.7 L436.9,364.7 L439.8,367.7 L444.8,366.7 L448.8,368.7 L451.7,372.6 L449.8,376.6 L445.8,378.6 L441.8,379.6 L438.8,377.6 L435.9,379.6 L431.9,380.6 L427.9,379.2 L424,379.6 L420,380.6Z M425,389.5 L428.9,387.5 L431.9,389.5 L435.9,391.5 L439.8,393.5 L443.8,394.5 L447.8,393.5 L451.7,395.5 L454.7,398.4 L452.7,402.4 L449.8,404.4 L445.8,405.4 L441.8,406.4 L438.8,408.3 L435.9,407.4 L433.9,403.4 L434.9,399.4 L431.9,397.4 L427.9,396.4 L425,393.5Z" fill="#d9f0d3"/>
<path d="M413.3,398 L417.6,395.9 L421.9,394.8 L427.3,392.6 L429.5,394.8 L426.3,398 L421.9,400.2 L416.5,401.3Z M432.7,370 L437.1,368.5 L442.5,368.9 L440.3,371.5 L434.9,372.1Z" fill="#a6dba0"/>
<path d="M418.7,397 L420.9,395.9 L421.9,399.1 L419.8,400.2Z" fill="#5aae61"/>
<path d="M440,167.2 L446.2,162.5 L453.9,161 L458.5,164.1 L461.6,168.7 L455.4,173.3 L449.2,178 L443.1,181 L440,181Z M464.7,154.8 L467.7,154.2 L468.4,157.3 L465.3,157.9Z M470,143.7 L474.3,142.6 L479.7,141.6 L483,142.6 L480.8,145.9 L475.4,146.5 L470,147Z M578,194.5 L580.6,192.8 L581.9,196.2 L579.1,197.1Z M500,169.4 L501.7,170.5 L502.2,174.8 L500,175.9Z M578.2,193.2 L581,192.1 L582.1,195.3 L579.5,196.4Z M612.3,201.1 L616,197.4 L620.6,196.5 L625.2,197.4 L630.8,199.2 L628.9,204.8 L623.4,209.4 L619.7,212.2 L616.9,214.9 L614.2,211.8 L613.2,206.6Z M544,223.2 L547.7,221.4 L552.3,221.4 L556,224.2 L556.9,228.8 L559.7,226.9 L562.5,225.1 L566.2,224.2 L570.8,225.1 L573.5,222.3 L575.4,217.7 L579.1,216.8 L581.8,219.5 L581.8,226.9 L577.2,231.5 L573.5,233.4 L571.7,237.1 L568.4,239.8 L565.2,238.9 L562.8,236.2 L561.5,238.9 L563.4,242.6 L565.2,247.2 L560.6,246.3 L556.9,245.4 L557.8,250 L554.2,252.8 L551.4,254.6 L548.6,251.8 L547.7,247.6 L544.9,246.3 L544,251.8 L540.3,253.7 L537.5,250 L537,245.4 L538.5,241.7 L536.2,238.9 L535.7,235.2 L537.5,231.5 L539.4,227.8 L542.2,225.1Z M593.8,214 L596.6,211.2 L600.3,210.3 L603.1,212.2 L604,215.8 L603.1,220.5 L598.5,222.9 L593.8,221.8 L592.4,217.7Z M520,245.4 L523.7,243.5 L528.3,238.9 L532,235.2 L534.8,232.5 L535.7,236.2 L532.9,240.8 L530.2,245.4 L527.4,250 L523.7,254.6 L520,257.4Z M471.5,262.2 L476.2,260.3 L479.8,263.1 L483.5,264 L487.2,262.2 L491.8,261.2 L496.5,258.5 L501.1,258.5 L503.8,255.7 L506.6,252 L511.2,250.2 L516.8,248.3 L522.3,245.5 L527.8,241.8 L531.5,240 L533.4,245.5 L528.8,250.2 L526,253.8 L522.3,256.6 L517.7,259.4 L513.1,262.2 L509.4,265.8 L504.8,268.6 L501.1,270.5 L496.5,271.4 L492.8,273.2 L488.2,271.4 L483.5,272.7 L479.8,274.2 L477.1,272.3 L474.3,267.7 L472.1,264.9Z M465.1,284.3 L467.8,282.5 L471.5,284.3 L470.2,288.9 L467.8,292.6 L465.1,295.4 L461,299.1 L459.2,295.4 L461.8,290.8 L463.6,287.1Z M453.1,308.3 L455.8,304.6 L458.8,303.7 L458.6,307.4 L456.8,311.1 L454.4,313.8 L451.8,314.6Z M432.8,314.8 L435.2,313.8 L435.9,316.1 L433.7,317.2Z M534.8,239.8 L575.4,238 L575.4,262 L534.8,262Z M436.2,167.5 L440.5,165.8 L442.7,167.1 L445.5,172.3 L448.1,169.3 L452.4,164.3 L456.7,162.1 L461,164.3 L460,168.6 L455.6,171.8 L452.4,176.2 L449.2,180.5 L444.8,182.6 L440.5,183.7 L436.9,182.6Z M420,174 L423.2,170.8 L427.6,171.8 L430.8,169.3 L435.6,168 L436.2,182.6 L433,184.8 L428.6,183.7 L424.3,187 L420,189.1Z M420,191.3 L424.3,189.1 L428.6,188 L431.9,190.2 L429.7,194.5 L425.4,196.7 L420,196.7Z M468.6,143.8 L472.9,142 L478.3,141.2 L482.6,140.5 L483.7,143.8 L479.4,145.9 L474,147 L469.7,147Z M488,180.5 L491.3,176.2 L494.5,170.8 L497.8,166.4 L501,168.6 L502.1,174 L498.9,178.3 L494.5,180.5 L490.2,182.6Z M472.9,183.7 L476.6,182.2 L480.5,182.6 L482.6,185.9 L481.6,190.2 L478.3,189.1 L475.1,187Z M472.9,203.2 L475.7,199.9 L478.3,198.9 L478.8,203.2 L476.6,206.4 L473.6,206.8Z M442.7,212.9 L445.9,209.7 L449.8,208.6 L450.7,211.8 L447,215.1 L443.3,216.1Z M421.1,228 L424.3,225.9 L427.6,228 L426.5,234.5 L423.2,236.7 L421.1,233.4Z M465.4,155.6 L467.5,154.6 L468.6,156.7 L466.4,157.8Z M454.6,198.9 L457.2,197.8 L457.8,200.4 L455.2,201Z M435.1,223.7 L437.3,222.6 L437.7,225.9 L435.6,226.3Z M375.1,287.2 L379.4,284 L384.8,281.8 L390.2,279.7 L393.5,274.3 L397.8,271 L403.2,268.9 L408.6,270 L412.9,267.8 L417.2,268.9 L421.6,266.7 L425.9,264.6 L429.1,267.8 L428,273.2 L429.1,278.6 L424.8,280.8 L420.5,282.9 L416.2,286.2 L411.8,288.3 L407.5,287.2 L404.3,290.5 L400,293.7 L395.6,292.6 L391.3,294.8 L387,297 L382.7,295.9 L379.4,292.6 L376.2,291.6Z M376.2,230 L381.6,230 L385.9,232.2 L387,237.6 L383.8,240.8 L380.5,238.6 L377.3,234.3Z M418.3,230 L427,230 L428,234.3 L424.8,237.6 L420.5,235.4Z M429.1,249.4 L432.4,248.4 L433.4,251.2 L430.2,252Z M360,271 L362.2,270 L363.9,273.2 L362.2,276.4 L360,275.8Z M361.1,280.8 L364.3,279.7 L365.4,282.9 L362.2,284Z M432.4,316.4 L435.2,315.3 L436,318.1 L433.4,319Z M414.1,188 L417.7,181.5 L419.9,175 L442.6,175 L442.6,182.6 L435,185.8 L429.6,190.1 L424.2,194.4 L418.8,195.5 L415.6,193.4Z M383.2,195.5 L386.4,194.4 L388.6,197.7 L392.9,198.8 L397.2,200.9 L395.1,205.2 L390.7,207.4 L387.5,205.2 L385.3,200.9Z M379.9,219.3 L383.2,218.2 L386.4,220.4 L390.7,219.3 L395.1,221.4 L392.9,225.8 L389.7,226.8 L386.4,230.1 L387.5,235.5 L385.3,240.9 L381,242 L377.8,238.7 L376,235.5 L378.9,231.2 L381,226.8 L379.5,223.6Z M381,243.7 L383.8,243 L384.7,246.3 L382.1,247.4Z M419.9,229 L424.2,226.8 L427.5,229 L428.5,233.3 L426.4,237.6 L422.1,236.6 L419.9,233.3Z M409.1,226.8 L412.3,225.8 L413.4,229 L410.6,230.7Z M375.6,287.3 L381,283 L386.4,280.9 L390.7,276.5 L396.1,273.3 L400.5,270.1 L405.9,269 L410.2,272.2 L414.5,270.1 L418.8,267.9 L424.2,264.7 L428.5,265.7 L429.6,270.1 L427.5,275.5 L423.1,279.8 L418.8,283 L413.4,285.2 L408,287.3 L403.7,291.7 L400.5,294.9 L374.5,294.9Z M358.3,271.1 L361.6,270.1 L362.6,274.4 L364.8,278.7 L367,281.9 L363.7,283 L360.5,278.7Z M428.5,249.5 L431.8,248.4 L432.9,251.7 L429.6,252.8Z M435,223.6 L437.2,221.4 L438.3,225.8 L436.1,227.9Z M198.1,237.6 L203.5,233.8 L208.9,230.1 L213.2,229 L216.4,232.2 L218.6,236.6 L219.7,240.9 L218.6,245.2 L214.3,246.3 L210,247.4 L205.6,248.4 L201.3,246.3 L199.2,242Z M192.7,264.7 L195.9,265.7 L198.5,267.5 L197,269 L193.3,267.9Z M294.2,253.9 L297.5,252.8 L298.5,256.7 L296.4,259.3 L294.2,258.2Z M260.2,187.8 L254.6,194.6 L251.5,200.8 L250,204.5 L242.3,206.3 L235.5,209.4 L233.7,211.8 L237.7,213.4 L243.8,211.8 L251.5,208.8 L254.6,213.1 L248.5,216.2 L242.3,217.7 L236.2,220.8 L231.5,225.4 L226.9,230 L222.3,233.1 L219.2,236.2 L216.2,233.1 L213.1,230 L210,226.9 L222.3,214.6 L233.1,203.8 L245.4,193.1 L256.2,185.4Z M66.4,313.1 L70.8,308.8 L76.2,305.5 L81.6,302.3 L87,298 L93.4,294.1 L102.1,294.1 L110.7,294.9 L119.4,297.1 L123.7,300.6 L125.9,305.5 L129.1,309.8 L134.5,312 L139.9,309.8 L141,314.2 L138.8,319.6 L134.5,322.8 L132.3,328.2 L130.2,331.4 L126.9,328.2 L125.9,322.8 L121.5,321.7 L118.3,325 L115.1,328.2 L112.9,323.9 L110.7,319.6 L105.3,323.9 L101,325 L96.7,327.1 L95.6,331.4 L92.4,333.6 L88,331.4 L84.8,328.2 L81.6,331.4 L78.3,328.2 L75.1,325 L70.8,321.7 L66.4,319.6 L64.3,316.3Z M92.4,336.8 L96.7,335.8 L101,337.9 L105.3,336.8 L109.7,335.8 L112.9,334.7 L113.3,339 L110.7,343.3 L107.5,346.6 L104.3,348.7 L101,346.6 L99.9,343.3 L95.6,344.4 L93.4,341.6Z M111.8,355.2 L115.1,352 L119.4,350.9 L123.7,352 L125.9,356.3 L128,360.6 L125.9,362.3 L122.6,359.5 L118.3,358.4 L114,358.4Z M45.9,371.4 L50.2,368.2 L55.6,369.3 L61,368.2 L65.4,366 L70.8,363.9 L75.1,362.8 L76.2,367.1 L72.9,370.3 L68.6,372.5 L63.2,373.6 L58.9,375.7 L54.6,376.8 L50.2,375.7 L47,374Z M137.7,345.5 L142.1,343.3 L147.5,342.2 L152.9,340.1 L158.3,337.9 L162.6,336.8 L171.2,335.8 L175.5,339 L171.2,343.3 L164.7,346.6 L160,346.6 L155,347.6 L149.6,348.7 L145.3,349.8 L141,349.8Z M136.7,329.3 L141,328.2 L144.2,331.4 L143.1,335.8 L138.8,334.7Z M75.1,352 L79.4,350.9 L84.8,352 L89.1,350.9 L94.5,352 L98.9,350.9 L103.2,352 L102.1,355.2 L96.7,355.9 L91.3,354.6 L84.8,354.6 L79.4,354.1Z M82.6,375.7 L85.9,373.6 L89.1,374.7 L88,379 L84.4,379.6Z M83.7,366 L87,363.9 L88.7,366.7 L85.9,368.8Z M29.7,381.1 L33,379.6 L36.2,381.1 L35.1,383.3 L30.4,383.3Z M151.1,342 L155.4,339.8 L159.7,337.6 L164,335.5 L167.3,336.6 L165.1,340.9 L160.8,343 L156.5,345.2 L152.2,346.3 L150,346.3 L150,343Z M222.4,311.7 L225.6,309.6 L228.9,307.4 L233.2,307 L234.3,309.1 L231,311.7 L226.7,313.5 L223.4,313.9Z M249.4,303.1 L252.6,301.4 L255.9,302 L256.9,305.2 L253.7,307.4 L250.5,306.3Z M261.3,309.6 L264.5,307.4 L266.7,308.5 L264.5,311.7 L261.9,312.2Z M239.7,300.5 L241.8,299.8 L242.9,302.7 L240.7,303.5Z M470.6,425.2 L489.4,421.2 L489.4,433.1 L470.6,433.1Z M408.9,431.8 L414,431.8 L414,438.8 L408.9,438.8Z M371,453 L376,450 L382,447 L388,444.4 L395,441.6 L399.6,442 L394,445.6 L388,448 L382,451 L376,454 L372,455.2Z" fill="#f46d43"/>
</g>
<path d="M87,295.8 L87,349.8 M108.1,295.4 L108.1,312 M66.4,314.2 L74,313.1 L82.6,314.2 L87,312 L112.9,312 L110.7,319.6 L111.8,327.6 M87,328.2 L110.7,327.6 L110.7,347.6 M58.9,347.6 L63.2,354.1 L71.8,352 L78.3,349.8 L87,349.8 L94.5,349.8 L94.5,383.3 M94.5,348.7 L123.7,347.6 M58.9,347.6 L58.9,383.3 M121.1,347.6 L121.1,383.3 M128,317.4 L128,345.5 M123.7,345.5 L132.3,345.5 L132.3,334.7 L141,334.7 M123.7,320.6 L128,317.4 L137.7,317.4 L158.3,317.4 M137.7,317.4 L137.7,345.5 M158.3,317.4 L158.3,347.6 M170.5,296.6 L170.5,367.9 M158.6,318.2 L158.6,346.3 M150,318.2 L170.5,318.2 M150,333.3 L158.6,333.3 M170.5,303.1 L181.3,303.1 L181.3,324.7 L190,331.2 L190,361.4 M208.3,288 L207.2,307.4 L206.2,318.2 L208.3,329 L209.4,348.4 L210.1,367.9 M193.2,303.1 L204,307.4 L207.2,307.4 L221.3,311.7 L224.5,316 L224.5,322.5 L238.6,327.9 L240.7,326.8 M245.1,281.5 L246.1,296.6 L245.1,309.6 L240.7,326.8 L237.5,329 L235.3,339.8 L232.1,352.8 L231,361.4 L231.7,383 M258,275 L258,296.6 L264.5,300.9 L279.6,302 L290,296.6 M245.1,309.6 L262.3,303.1 M240.7,326.8 L253.7,329 L266.7,325.8 L271,318.2 M209.4,337.6 L235.3,336.6 M209.4,349.5 L190,349.5 M190,344.1 L170.5,344.1 M157.6,346.3 L157.6,367.9 L178.1,367.9 L178.1,383 M197.5,357.1 L197.5,383 M231,361.4 L251.5,357.1 L266.7,346.3 L279.6,339.8 L290,333.3 M279.6,339.8 L283.9,348.4 L279.6,361.4 L271,372.2 L262.3,383 M268.3,188 L269.4,203.1 L271.5,218.2 L273.7,235.5 L275.9,247.4 M297.5,188 L299.6,207.4 L301.8,224.7 M213.2,227.9 L221.8,233.3 L228.3,237.6 L226.2,246.3 L230.5,248.4 L243.4,248.4 L258.6,249.5 L278,247.4 L284.5,246.3 L291,226.8 L301.8,224.7 L310,223.6 M243.4,248.4 L244.5,261.4 L245.6,276.5 L246.7,294.9 M258.6,249.5 L258.6,265.7 L259.7,283 M284.5,246.3 L285.6,261.4 L286.7,267.9 L295.3,269 L299.6,267.9 M194.8,275.5 L208.9,274.4 L214.3,276.5 L215.4,294.9 M226.2,246.3 L221.8,261.4 L214.3,276.5 M286.7,267.9 L287.7,294.9 M300,223.6 L310.8,223.6 L325.9,221.4 M300,265.7 L310.8,267.9 L325.9,265.7 M343.2,209.6 L351.8,203.1 L358.3,199.8 L367,205.2 L371.3,209.6 L373.4,218.2 L377.8,221.4 M365.9,188 L367,198.8 L371.3,209.6 M348.6,213.9 L351.8,224.7 L349.7,239.8 L360.5,246.3 L364.8,242 L373.4,239.8 M338.9,237.6 L349.7,239.8 M360.5,246.3 L356.2,257.1 L364.8,261.4 L373.4,257.1 L384.3,254.9 M346.4,263.6 L356.2,257.1 M346.4,263.6 L351.8,274.4 L358.3,280.9 L362.6,294.9 M384.3,196.6 L379.9,218.2 L377.8,221.4 M396.1,188 L397.2,207.4 M391.8,232.2 L401.5,229 L412.3,233.3 L421,237.6 L429.6,236.6 L438.3,237.6 M421,237.6 L416.7,257.1 L412.3,261.4 L414.5,278.7 L416.7,294.9 M401.5,294.9 L403.7,278.7 L412.3,261.4 M486.2,81.6 L541.7,81.6 L541.7,93.9 L560.2,95.4 L560.2,149.4 L591,141.7 M500.1,81.6 L500.1,124.7 L497,134 L500.1,146.3 L501.6,161.7 L504.7,183.3 M541.7,93.9 L541.7,146.3 L535.5,149.4 L535.5,158.6 L541.7,158.6 L543.2,177.1 L520.1,183.3 L504.7,184.8 M580.2,146.3 L583.3,167.9 L566.3,174 L564.8,183.3 L558.6,184.8 L560.2,204.8 L541.7,207.9 L543.2,214.1 M520.1,183.3 L523.2,204.8 L526.3,211 L541.7,207.9 M461.6,149.4 L466.2,177.1 L473.9,178.6 L475.4,192.5 L484.7,195.6 L486.2,214.1 L492.4,217.2 L497,231 M449.2,195.6 L455.4,197.1 L458.5,214.1 L464.7,217.2 M345.2,336 L346.3,347.3 L343.1,355.9 L344.2,364.6 L343.1,373.2 L347.4,380.8 M344.2,364.6 L351.7,370 L358.2,366.7 L364.7,368.9 L371.2,367.8 L377.6,370 L386.3,368.9 L386.3,380.8 M379.8,336.5 L378.7,351.6 L379.8,358.1 L386.3,368.9 M346.3,353.8 L358.2,355.9 L369,351.6 L379.8,353.8 M410.1,338.2 L411.1,351.6 L416.5,358.1 L412.2,368.9 L416.5,373.2 L420.9,381.8 M416.5,358.1 L427.3,353.8 L436,347.3 L444.6,343 M416.5,373.2 L427.3,371 L436,373.2 L442.5,368.9 M427.3,384 L436,386.2 L444.6,394.8 L448.9,401.3 M344.2,381.8 L345.2,394.8 L340.9,403.4 L345.2,416.4 L343.1,429.4 M366.8,381.8 L367.9,401.3 L377.6,404.5 L379.8,416.4 L375.5,425.1 M384.1,381.8 L383,394.8 L377.6,404.5 M379.8,403.4 L401.4,405.6 M356,409.9 L357.1,427.2 M340.9,403.4 L328,407.8 L319.3,405.6 M401.4,401.3 L416.5,402.4 M401.4,413.2 L413.3,413.2 M255.3,383.7 L275.5,390.9 L271.2,398.8 L279.8,408.9 L275.5,415.4 L261.1,416.8 M279.8,408.9 L288.5,409.6 L297.1,408.9 L300,418.3 L298.6,426.9 L302.9,447.1 M297.1,408.9 L300,389.4 L302.9,375 M300,418.3 L315,416.8 M290.5,285 L291.6,298 L293.8,310.9 L289.4,319.6 L291.6,334.7 L285.1,336.8 L284,349.8 L276.5,358.4 L270,360.6 M291.6,334.7 L313.2,331.4 L330.5,333.6 M293.8,310.9 L313.2,308.8 L332.6,309.8 M307.8,349.8 L306.7,367.1 L304.6,380.1 L302.4,404.9 M284,349.8 L307.8,349.8 L324,352 M360,258.1 L373,262.4 L385.9,258.1 M385.9,257 L398.9,262.4 L409.7,260.2 L420.5,236.5 L437.8,237.6 M409.7,260.2 L414,277.5 L416.2,294.8 M373.4,290.5 L388.1,288.3 L403.2,292.6 L416.2,294.8 L431.3,301.3 L443.2,294.8 M388.1,288.3 L390.2,303.4 L389.2,320.7 L392.4,336.9 M416.2,294.8 L424.8,307.8 L422.6,322.9 L424.8,338 M424.8,307.8 L442.1,303.4 L448.6,306.7 M439.9,251.6 L452.9,249.4 L461.5,243 L472.3,238.6 L481,230 M461.5,243 L463.7,255.9 L472.3,264.6 M440.4,273.2 L450.7,275.4 L461.5,273.2 L470.2,271" fill="none" stroke="#6b5a3a" stroke-opacity="0.35" stroke-width="0.5"/>
</g>
<path d="M328.5,183.6 L329.8,183.2 L330.7,186.9 L332,191.2 L333.7,191.9 L334.6,187.5 L336.1,184.1 L338.9,182.3 L341,182.8 L340.4,186.2 L338.5,189.3 L337.2,192.7 L338.9,196.6 L338.5,203.1 L336.7,209.6 L334.6,215 L335.6,220.4 L334.1,225.8 L332.4,231.2 L332,236.6 L329.8,239.8 L328.1,244.1 L327,249.5 L326.4,253.2 L325.1,253.2 L323.8,251 L324.2,247.4 L325.9,242 L327.7,237.6 L328.5,233.3 L327.7,226.8 L325.9,220.4 L324.8,213.9 L325.5,207.4 L326.4,200.9 L327.7,194.4 L328.1,188Z" fill="#fff" stroke="#000" stroke-width="1"/>
<path d="M329.4,205.2 L331.5,203.5 L332.8,207.4 L332,212.2 L329.8,212.8 L328.9,209.1Z" fill="#fee08b" stroke="#000" stroke-width="0.8"/>
<path d="M25.4,383.3 L25.4,367.9 L34.7,360.2 L43.9,352.4 L50.1,349.4 L56.2,343.2 L60.8,338.6 L65.5,334 L67,327.8 L63.9,321.6 L59.3,317 L58.7,309.3 L59.3,301.6 L63.9,299.4 L71.6,297.6 L80.9,295.4 L90.1,293.3 L99.4,294.5 L108.6,295.4 L115.4,295.7 L123.1,297.9 L129.3,302.5 L137,301.9 L143.1,301 L150.8,300 L157,302.5 L158.6,301 L164.7,299.4 L170.3,296.3 L174,291.7 L177,288.6 L181.7,285.6 L187.8,284 L191.8,279.4 L192.4,273.2 L190.9,267.1 L190,262.4 L194,260.9 L198,257.8 L199.2,253.2 L197.1,249.5 L192.4,250.7 L187.8,250.7 L186.3,246.4 L190.9,242.4 L198.6,237.2 L206.3,231.6 L212.5,227 L215.6,220.8 L221.7,214.7 L229.4,207 L237.1,200.8 L244.8,194.7 L252.5,190 L260.2,186.9 L260,187.2 L415.6,186.3 L418.7,178.6 L420.2,170.8 L423.3,168.7 L422.6,169.7 L426.5,171.4 L429.7,168.6 L435.1,167.1 L440.5,165.4 L442.7,166.4 L445.5,171.8 L447.7,168.6 L452.4,163.2 L455.6,161 L452.4,156.7 L453.5,152.4 L457.8,145.9 L462.1,142.7 L466.4,137.3 L468.6,131.9 L471.8,127.6 L473.6,122.2 L472.4,114.8 L475.4,102.4 L481.6,93.2 L486.2,82.4 L486.2,74.7 L493.9,60.8 L506.3,43.9 L522.6,20.2 L531.5,22.3 L531.5,33.1 L538.6,39.3 L546.3,34.7 L555.6,31.6 L563.3,26.9 L572.5,26.9 L580.2,34.7 L591,47 L591,122.5 L592.5,127.1 L591,133.3 L594.1,139.4 L600.2,145.6 L608,147.1 L606.4,154.8 L608,162.5 L612.6,170.2 L620.3,173.7 L623.4,183.9 L627.1,190 L629.8,197.4 L628.9,200.2 L625.2,201.1 L626.2,204.8 L623.4,208.5 L619.7,211.2 L616.9,214 L614.2,212.2 L612.3,214.9 L608.6,214 L606.8,216.8 L603.1,217.7 L602.2,220.5 L599.4,219.5 L597.5,222.3 L593.8,221.4 L592,217.7 L590.2,220.5 L587.4,221.4 L585.5,224.2 L582.8,223.2 L580.9,226 L580,231.5 L577.2,229.7 L575.4,226.9 L572.6,231.5 L571.7,236.2 L568.9,238.4 L565.2,237.6 L562.5,235.2 L561.5,231.5 L559.7,235.2 L560.6,239.8 L563.4,242.6 L564.3,246.3 L561.5,245.4 L559.7,243.5 L556.9,242.6 L554.2,239.8 L551,238.4 L548.1,235.4 L545.5,232.1 L543.6,227.8 L544.9,224.2 L543.6,220.5 L543.1,215.8 L541.8,210.7 L540.7,215.8 L541.8,218.1 L539.4,221.4 L537,224.7 L534.8,227.3 L533.8,231.5 L532,236.2 L530.2,241.7 L528.3,247.2 L525.5,252.8 L522.8,257.4 L530.6,244.6 L527.8,248.3 L526,252 L522.3,254.8 L518.6,256.6 L515.8,259.4 L512.2,261.2 L509.4,264 L505.7,266.8 L502.9,268.6 L499.2,269.5 L496.5,267.7 L495.7,260.3 L495.2,254.8 L496.1,254.4 L496.8,260.3 L497.6,267.7 L495.5,270.5 L492.8,272.3 L489.1,270.5 L485.4,271.4 L481.7,273.2 L478.4,272.3 L476.2,275.1 L475.2,277.8 L476.2,281.5 L473.4,283.4 L470.6,284.3 L469.7,288 L467.8,290.8 L466,293.5 L463.2,295.4 L460.5,298.2 L458.6,301.8 L457.7,305.5 L455.8,309.2 L454,312.9 L451.8,314.4 L450.8,318.9 L446.8,330 L447.8,334 L449.8,338.9 L454.7,340.9 L458.7,341.9 L456.7,344.9 L452.7,346.9 L448.8,348.8 L445.8,350.8 L443.8,354.8 L440.8,357.8 L438.8,360.7 L439.8,364.7 L443.8,365.7 L446.8,367.7 L449.8,369.7 L451.7,372.6 L453.7,376.6 L455.3,380.6 L456.7,384.5 L458.7,388.5 L460.7,392.5 L461.7,396.4 L463.6,399.4 L467.6,401.4 L472.6,401.4 L477.5,399.4 L481.9,398 L485.5,394.5 L486.8,389.5 L485.5,385.5 L482.7,382.8 L479.1,381.4 L475.9,380.4 L476.5,378.8 L480.5,379.2 L484.5,381.2 L487.4,385.5 L489,390.5 L489.8,396.4 L489.4,402.4 L488.6,408.3 L487.4,412.3 L487,408.3 L487,405.4 L481.5,406.4 L476.5,407.4 L471.6,407.7 L467.6,408.9 L464.6,410.3 L461.9,410.1 L460.5,411.3 L458.2,411.8 L456.4,412.9 L456.4,410.8 L456.8,407.2 L457.3,403.5 L456.8,400.2 L456.4,398.8 L454.5,400.2 L452.7,401.2 L452,403.5 L450.1,404.8 L448.1,406 L447,408.3 L445.1,407.2 L443.3,406 L442.4,409.2 L440.9,412 L438.8,413.4 L437.5,414.7 L435.2,414.2 L433.5,414.2 L431.9,416.9 L432.3,412.9 L431.6,409.1 L430.6,406 L430.1,403.1 L427.9,402.2 L426.3,400.3 L424.7,399 L423.1,397.1 L421.5,395.2 L420.4,396 L420.2,400.3 L419.9,404.1 L420.4,407.9 L420.8,412.9 L420.9,416.9 L419,419.2 L417.1,421.1 L414,422.4 L408.9,423.6 L403.9,424.9 L400.1,425.5 L400,423 L396,425 L388,427 L380,428 L372,428.4 L364,429 L356,430 L348,431 L340,434 L334,437 L328,439 L322,442 L317,445 L313.4,446.4 L312.4,448.6 L310.2,451.8 L308.1,455.1 L306.5,458.3 L306,458 L310,455 L315,453 L320,452 L325,452 L330,450 L336,450 L340,448 L346,449 L352,448 L358,447 L362,445 L366,443 L370,441 L375,438 L379,437 L380,439 L376,442 L373,445 L370,447 L368,449 L365,451 L364,453 L368,454 L372,452 L378,449 L384,446 L390,444 L396,442 L399,442.4 L397,444.4 L392,446.4 L386,449 L380,452 L374,455 L368,457 L360,459.2 L352,461.6 L346,463.6 L340,465.2 L334,466.6 L328,468 L322,469.4 L314,471 L308,471.6 L303,472.4 L299,471.6 L297,469 L294.4,468.6 L299,458 L301,452 L302.6,447 L280,433.6 L263.9,421.9 L261.1,419.7 L257.5,418.3 L253.8,416.8 L251,413.9 L248.8,410.3 L248.1,406 L247.4,401.7 L246.6,396.6 L244.5,393 L240.9,391.6 L238,390.1 L235.8,386.5 L232.9,383.4 L150,383.2Z M447.2,425.2 L449.5,423.8 L451.8,421.9 L454.1,419.6 L456.4,417.3 L458.2,416.8 L459.6,418.2 L460.5,420.5 L462.8,421.5 L464.7,421 L464.9,423.8 L463.3,424.7 L460.1,424.5 L457.3,424.7 L454.5,424.7 L451.8,425.6 L449.5,427.5Z M472,426.2 L476.5,428.2 L480.5,427.2 L483.5,424.2 L484.5,422.2 L486.4,427.2 L488.4,430.2 L485.5,431.5 L480.5,431.2 L476.5,430.2Z M441.4,361.3 L443,360.5 L443.8,362.5 L442.2,363.3Z M444.2,363.7 L445.8,362.9 L446.4,364.9 L444.8,365.7Z M439.8,364.1 L441.4,363.7 L441.8,365.7 L440.2,366.1Z M372.4,445.6 L375,442.4 L378.4,440.4 L381,441.6 L379.6,445 L376,448 L373.2,448.4Z M410.2,435.6 L411.7,433.1 L412.7,432.5 L413.1,435.6 L412.1,437.9 L410.4,437.5Z M424.3,406.6 L427.2,404.3 L429.4,406.6 L429.9,411.6 L428.6,416.1 L426.1,417.7 L424.7,413.5Z M421.9,407.9 L423.4,407.2 L423.9,411.6 L423.2,416.2 L422.1,414.8Z M423.8,399.7 L425.2,399 L425.7,402.3 L424.3,403.6Z M426.8,400.5 L428.1,402.3 L427.9,405.3 L426.8,403.8Z M455.5,413.6 L452.7,415.5 L449.9,416.8 L447.2,418.2 L444.4,419.6 L442.1,420.5 L442.5,421.2 L444.8,420.3 L447.6,418.9 L450.4,417.5 L453.2,416.1 L455.9,414.3Z M284,473 L287,470 L291,468 L294,469.6 L293.6,472 L290,474 L287,477 L284.4,476.4Z M536.2,245.4 L538.5,241.3 L542.5,241.7 L544.9,245.4 L544.9,251.3 L541.8,254.2 L538.1,252.4Z M536.6,235.2 L539.4,234.3 L541.2,237.1 L539.4,239.5 L536.6,238.9Z M538.5,226 L539.9,225.1 L540.7,229.7 L539.4,233.4 L538.1,231.5Z M547.7,246.3 L549.9,242.6 L554.2,242.1 L557.8,245.4 L557.8,250 L555.1,253.7 L551.4,255 L548.6,251.8Z M552.9,255 L555.1,254.2 L556.2,257.9 L554.7,261.1 L552.9,259.2Z M562.1,246.3 L565.2,245 L567.6,247.2 L566.2,250.6 L562.8,250.9Z M568.4,245.4 L570.8,244.6 L571.7,247.6 L569.5,248.7Z M572.6,239.8 L574.6,239.1 L575.4,241.3 L573.5,242.4Z" fill="none" stroke="#000" stroke-width="1.15" stroke-linejoin="round"/>
<path d="M325.5,253.2 L326.4,258.2 L325.9,263.6 L327,267.9 L326.4,273.3 L325.5,277.6 L326.4,281.9 L329.2,283 L332.4,281.9 L333.5,287.3 L334.1,294.9 L333.7,295.8 L333.1,306.6 L332.2,335.1 M331.9,335.4 L321.5,380.1 L320.5,400 L319.4,421.6 L320.2,429.2 L321.6,431.9 L321.6,433.7 L310.8,440.5 L313.5,446.4 M306.5,458.3 L302,461 L299,465 L297.6,468 M366,458 L356,461.6 L346,465.2 L336,467.6 L326,469.4 L320,470.4 M300,472.4 L306,471.8 L312,471.2 L320,470.4 M303,470 L307,468.6 L312,469 L313,470.4 L308,471.4 L304,471.2 L303,470 M331.9,335.4 L366.8,336 L427.3,338.2 L432.7,333.2 L447.4,326.8 M414.5,186.9 L413.4,192.3 L411.3,197.7 L410.2,203.1 L411.9,208.5 L412.8,213.9 L411.3,218.2 L408,221.4 L403.7,224.7 L399.4,227.9 L395.1,230.7 L391.8,232.2 L390.3,236.6 L389,242 L387.5,248.4 L385.3,254.9 L383.2,261.4 L381.7,267.9 L378.9,274.4 L375.6,280.9 L374.5,287.3 L372.6,287.2 L372,295.8 L371.1,306.6 L369.8,315.2 L366.8,321.7 L365.5,327.1 L367.2,331.4 L369.8,336.4 M435.6,167.1 L437.3,206.4 L438.9,230 L439.9,251.6 L440.4,273.2 L441,288.3 L443.2,294.8 L446.4,301.3 L448.6,306.7 L451.8,313.2 L453.3,315.8 M321.5,380.1 L353.9,381 L354.3,382.5 L356,382.5 L356.5,381 L401.4,381.8 L420.9,382.3 M402,382.4 L402,419.8 L400.7,420.5 L400.1,425.5 M420.9,382.4 L421.3,388.9 L423.1,390.8 L423.4,394.6 L423.1,397.1 M430.1,403.1 L431.6,402.2 L433.5,403.1 L433.9,407.9 L433.5,414.2" fill="none" stroke="#000" stroke-width="1.15" stroke-linejoin="round"/>
<path d="M627.0,190.7 L627.8,195.5 L628.2,190.7 M628.2,193.4 L627.5,197.8 L629.9,194.1 M624.4,200.3 L625.6,205.8 L626.4,200.2 M625.2,203.2 L626.2,207.8 L626.6,203.1 M623.0,207.0 L623.4,210.3 L624.9,207.3 M620.9,209.0 L620.8,212.2 L622.2,209.4 M618.3,211.2 L618.8,216.2 L619.5,211.2 M608.5,212.9 L607.9,216.2 L610.2,213.8 M604.9,216.1 L604.6,222.7 L606.9,216.5 M603.7,216.2 L602.2,220.6 L605.6,217.4 M601.0,219.2 L599.7,225.6 L602.6,219.8 M599.6,218.8 L598.9,223.6 L600.8,219.1 M596.4,221.2 L595.2,227.0 L597.6,221.6 M592.3,218.8 L592.0,223.7 L594.2,219.3 M591.5,217.3 L590.9,224.0 L593.5,217.8 M586.2,221.3 L586.4,225.0 L587.8,221.5 M583.8,222.8 L584.1,226.1 L586.1,223.5 M579.4,230.5 L579.2,234.7 L580.6,230.8 M572.6,228.8 L574.1,234.9 L574.9,228.7 M571.9,233.0 L570.6,237.6 L573.0,233.5 M570.2,236.0 L571.2,241.7 L571.7,235.9 M563.8,235.5 L561.6,240.7 L565.1,236.2 M561.9,234.7 L563.0,237.5 L563.7,234.6 M561.0,230.9 L559.6,234.7 L562.4,231.7 M559.3,234.0 L559.6,237.0 L560.6,234.1 M560.2,238.4 L557.5,244.5 L561.8,239.3 M563.2,243.8 L563.4,248.9 L564.8,244.0 M562.3,244.8 L561.8,249.2 L563.8,245.3 M559.0,243.4 L560.5,247.6 L561.3,243.2 M556.8,241.9 L557.1,245.3 L558.2,242.1 M555.2,241.0 L556.2,244.1 L557.1,241.0 M554.5,239.8 L554.7,245.1 L555.7,239.9 M553.3,238.4 L551.3,243.5 L555.2,239.6 M549.7,236.2 L548.3,239.6 L550.8,236.8 M548.0,234.9 L547.7,238.6 L550.0,235.7 M546.9,234.0 L547.3,240.7 L548.5,234.1 M544.9,231.5 L545.5,235.2 L546.6,231.6 M543.2,217.8 L542.3,220.6 L544.5,218.6 M541.3,210.1 L541.0,215.9 L542.7,210.4 M540.3,213.8 L539.0,218.0 L542.2,215.0 M541.1,217.2 L541.5,221.5 L542.5,217.3 M540.5,218.4 L539.6,223.7 L541.8,218.7 M538.8,220.9 L537.1,225.2 L540.0,221.6 M535.6,224.7 L535.0,228.8 L537.2,225.3 M534.6,225.9 L533.7,230.5 L536.2,226.5 M533.3,229.2 L534.4,234.0 L535.0,229.1 M529.5,241.2 L529.1,247.2 L531.0,241.4 M528.8,242.7 L528.7,248.6 L530.5,242.9 M528.8,244.0 L527.7,247.3 L530.1,244.8 M526.4,248.7 L527.1,255.3 L527.9,248.7 M523.8,254.1 L522.5,258.6 L525.1,254.7 M525.1,251.5 L523.4,256.0 L527.0,252.8 M526.4,249.1 L526.9,252.9 L528.3,249.4 M527.2,247.7 L527.2,253.9 L529.3,248.1 M528.9,245.2 L530.0,249.0 L530.5,245.1 M529.8,243.7 L529.8,250.4 L531.6,243.9 M528.7,245.1 L529.9,249.5 L530.4,245.0 M526.3,248.9 L526.4,252.2 L528.2,249.4 M525.7,250.4 L525.3,256.8 L527.2,250.7 M524.8,251.4 L523.2,257.0 L526.6,252.2 M517.9,255.8 L518.3,261.2 L519.2,255.9 M517.1,256.8 L515.8,261.1 L518.4,257.4 M513.0,259.7 L512.9,265.0 L514.3,259.8 M509.4,262.3 L508.4,265.8 L511.1,263.4 M508.2,263.6 L507.2,270.3 L509.4,264.0 M503.8,266.5 L504.6,269.9 L505.9,266.7 M502.9,267.3 L502.4,272.4 L504.3,267.7 M495.5,264.6 L495.0,269.0 L497.7,265.5 M495.1,259.8 L493.7,265.2 L497.2,260.8 M494.8,256.6 L493.9,261.2 L496.8,257.6 M495.1,254.4 L496.5,259.6 L497.1,254.3 M495.9,258.9 L495.8,263.9 L498.0,259.4 M497.1,265.1 L496.3,268.2 L498.7,266.1 M493.2,270.6 L494.4,273.4 L495.2,270.5 M490.5,270.9 L491.7,275.1 L492.4,270.8 M489.3,270.2 L490.0,276.2 L490.9,270.2 M487.7,269.6 L487.9,274.1 L489.8,270.1 M483.7,270.9 L481.0,276.5 L485.3,271.9 M482.1,271.6 L480.8,275.8 L483.9,272.6 M475.3,278.7 L474.8,282.3 L476.6,279.2 M469.7,284.7 L469.6,289.4 L471.1,285.0 M465.6,291.8 L466.4,295.2 L467.6,291.9" fill="#f46d43" stroke="#000" stroke-width="0.7" stroke-linejoin="round"/>
<path d="M626.5,190.8 L627.2,185.7 L627.6,190.8 M627.3,193.8 L628.1,189.5 L629.1,193.8 M629.0,198.2 L630.7,193.0 L630.2,198.4 M628.2,199.5 L631.0,194.7 L629.7,200.1 M627.5,200.7 L630.1,196.5 L628.9,201.3 M624.9,205.8 L628.5,200.8 L625.8,206.4 M623.6,206.9 L627.2,202.6 L625.2,207.8 M621.6,209.7 L623.1,206.6 L623.4,210.0 M619.3,211.4 L621.3,208.7 L620.2,211.9 M615.6,214.4 L617.0,211.3 L617.3,214.7 M611.4,215.6 L612.3,212.2 L612.6,215.7 M605.9,216.7 L608.5,213.5 L607.5,217.5 M602.3,218.9 L603.2,215.1 L603.5,219.0 M601.4,220.3 L603.0,217.3 L603.2,220.6 M598.3,221.1 L598.5,215.5 L599.5,221.0 M594.4,222.5 L595.7,217.1 L595.9,222.6 M588.5,221.0 L591.4,217.9 L589.7,221.8 M585.2,224.1 L587.0,220.2 L586.2,224.4 M581.3,224.6 L583.5,221.5 L582.3,225.1 M579.6,227.2 L582.9,223.5 L581.0,228.0 M579.5,230.9 L579.9,225.5 L581.1,230.8 M577.4,230.8 L581.5,226.0 L578.7,231.6 M576.3,230.4 L577.5,226.9 L577.9,230.6 M568.7,238.2 L571.0,235.0 L570.1,238.8 M567.2,238.8 L569.5,233.5 L569.1,239.3 M566.1,238.7 L567.1,232.6 L567.3,238.8 M564.4,238.2 L566.7,232.5 L565.5,238.5 M561.5,234.9 L562.2,230.9 L562.8,234.9 M560.9,233.0 L563.9,228.1 L561.9,233.5 M559.0,236.7 L561.5,234.0 L560.0,237.4 M559.2,238.6 L561.2,232.7 L561.0,238.9 M560.4,241.1 L563.0,237.5 L562.0,241.8 M562.2,242.7 L562.4,236.6 L563.3,242.6 M562.5,243.8 L564.1,238.6 L564.4,244.1 M563.2,246.8 L565.9,241.4 L564.9,247.3 M560.4,246.1 L561.1,240.8 L562.3,246.0 M551.5,239.7 L552.8,233.7 L553.2,239.9 M550.0,238.9 L552.1,234.1 L551.4,239.3 M546.0,234.3 L547.0,228.9 L547.3,234.4 M543.4,229.8 L545.7,227.4 L544.3,230.4 M543.0,228.7 L543.7,226.0 L544.3,228.8 M543.6,225.6 L545.4,220.2 L545.4,225.9 M543.5,224.0 L545.4,220.3 L545.4,224.5 M543.1,222.3 L546.4,218.5 L544.2,223.0 M542.6,221.1 L543.8,218.4 L544.4,221.3 M542.0,216.2 L543.9,212.0 L543.8,216.7 M541.5,214.6 L543.6,211.1 L543.4,215.2 M540.5,214.2 L541.5,211.1 L541.7,214.4 M540.2,217.0 L543.4,211.8 L541.2,217.5 M539.3,221.5 L539.5,215.5 L540.7,221.4 M533.4,228.9 L535.3,226.3 L535.1,229.5 M532.6,231.8 L536.5,226.7 L534.2,232.6 M532.0,233.1 L535.3,229.9 L533.6,234.2 M531.8,235.0 L535.0,229.8 L532.8,235.5 M530.5,237.9 L532.7,235.3 L531.9,238.6 M530.3,239.8 L531.4,235.3 L531.6,239.9 M528.0,247.5 L528.2,243.4 L529.1,247.4 M527.0,248.7 L529.1,244.2 L528.2,249.0 M525.4,251.2 L527.5,249.1 L526.7,252.0 M525.2,253.2 L525.5,247.7 L526.3,253.2 M522.2,257.6 L523.4,254.1 L523.9,257.8 M523.9,254.9 L525.2,249.0 L525.5,255.0 M527.7,247.5 L531.5,242.8 L529.4,248.5 M527.8,247.6 L530.2,243.6 L528.9,248.1 M526.9,248.9 L528.9,246.1 L527.8,249.4 M523.2,254.3 L524.2,248.5 L524.9,254.3 M521.8,255.1 L523.8,249.8 L523.4,255.4 M520.5,255.6 L523.9,251.5 L521.4,256.2 M518.9,256.6 L520.9,250.6 L520.7,256.9 M510.0,263.0 L511.7,258.9 L511.6,263.4 M506.3,265.9 L509.7,260.8 L507.7,266.6 M500.8,269.3 L503.7,264.3 L502.5,269.9 M499.3,269.7 L501.1,266.9 L501.0,270.2 M496.9,269.1 L498.1,265.8 L497.9,269.3 M495.7,268.1 L496.7,264.3 L497.1,268.2 M495.0,264.5 L498.6,259.6 L496.5,265.3 M494.5,257.0 L495.5,253.8 L496.0,257.1 M495.3,257.0 L498.5,253.6 L496.5,257.8 M495.6,258.8 L498.3,254.5 L496.9,259.3 M496.0,262.2 L497.4,257.5 L497.6,262.4 M496.1,263.5 L499.2,258.5 L497.5,264.2 M496.2,265.1 L498.6,261.4 L497.8,265.8 M497.0,268.6 L497.5,265.8 L498.0,268.7 M495.3,269.3 L497.8,267.2 L496.9,270.3 M492.2,272.9 L493.5,267.7 L493.4,273.1 M484.3,271.5 L488.0,267.7 L485.8,272.6 M478.7,273.3 L479.9,269.2 L480.3,273.5 M475.1,275.4 L478.5,270.9 L476.5,276.2 M474.8,277.4 L475.5,272.7 L476.6,277.4 M474.1,278.6 L476.9,273.3 L475.9,279.2 M475.4,281.9 L476.7,279.2 L476.4,282.1 M472.6,283.4 L475.3,280.0 L474.3,284.3 M470.2,285.0 L470.9,281.6 L471.3,285.1" fill="#fff" stroke="#000" stroke-width="0.7" stroke-linejoin="round"/>
<path d="M626.0,195.5 L627.6,194.4 L628.9,196.3 L628.0,197.9 L625.9,197.5Z M626.2,197.9 L626.3,196.4 L628.1,195.8 L628.5,197.5 L627.5,199.0Z M625.7,207.8 L625.1,207.0 L625.2,205.9 L626.3,205.9 L626.4,207.0Z M623.3,208.5 L624.4,207.8 L625.4,208.8 L624.7,210.1 L623.1,209.8Z M622.1,211.3 L621.7,210.6 L622.3,210.1 L623.4,210.4 L622.8,211.3Z M615.1,217.3 L615.8,219.1 L614.8,220.2 L613.4,219.9 L613.3,217.9Z M604.6,218.2 L606.3,220.2 L604.6,221.8 L603.0,220.8 L602.4,219.0Z M589.7,223.7 L588.8,223.2 L589.3,222.1 L590.1,222.3 L590.6,223.1Z M581.6,230.2 L580.1,230.5 L578.9,229.8 L579.6,228.7 L581.0,228.8Z M578.8,233.9 L578.0,233.9 L577.6,233.1 L578.6,232.7 L579.2,233.2Z M580.0,234.0 L580.7,234.8 L579.9,235.6 L578.8,235.1 L579.0,234.1Z M579.9,235.2 L578.7,235.1 L578.7,233.9 L579.6,233.3 L580.3,234.0Z M577.1,237.4 L576.4,238.2 L575.2,237.8 L575.3,236.9 L576.4,236.6Z M572.2,234.2 L573.5,235.8 L572.0,237.1 L570.5,236.5 L570.3,235.0Z M570.2,239.6 L571.1,240.1 L571.0,241.3 L569.8,241.3 L569.6,240.3Z M567.8,239.4 L569.5,239.7 L569.6,241.1 L568.0,241.7 L566.6,240.6Z M561.0,248.0 L561.6,246.4 L563.4,247.1 L563.4,248.8 L562.0,249.3Z M561.7,249.5 L562.4,248.9 L563.2,249.1 L563.3,250.2 L562.3,250.5Z M556.7,244.9 L558.4,245.2 L558.4,246.9 L557.2,247.7 L556.3,246.4Z M543.6,231.6 L545.2,233.1 L545.3,235.1 L543.2,235.3 L542.3,233.4Z M543.5,228.1 L543.8,227.3 L544.4,226.7 L544.8,227.7 L544.4,228.2Z M541.9,220.4 L543.1,221.5 L542.6,222.8 L540.8,223.1 L540.5,221.3Z M540.2,216.0 L540.4,214.2 L542.4,214.0 L542.9,215.8 L541.4,216.8Z M538.8,213.9 L540.5,213.0 L541.5,214.3 L540.9,216.6 L539.2,215.8Z M541.2,222.9 L539.6,222.3 L539.9,221.0 L541.4,220.3 L541.9,221.7Z M538.6,225.8 L538.0,224.9 L538.8,223.8 L540.1,224.4 L539.7,225.7Z M539.4,227.7 L537.4,228.2 L536.3,227.0 L537.0,225.7 L539.1,225.6Z M538.5,230.3 L537.0,231.3 L535.6,230.2 L536.2,229.1 L537.7,228.8Z M536.6,229.7 L535.3,229.5 L534.7,228.6 L535.8,227.5 L536.7,228.2Z M533.6,231.3 L534.2,232.0 L533.9,232.9 L532.9,232.8 L532.6,231.9Z M528.5,241.1 L530.9,241.4 L530.9,243.3 L529.1,244.4 L527.6,242.6Z M526.8,251.5 L525.3,249.9 L526.1,248.5 L527.6,248.4 L528.5,249.9Z M526.9,251.0 L527.7,252.2 L527.3,253.8 L525.2,253.5 L524.7,251.5Z M523.8,257.9 L524.6,259.1 L523.8,260.6 L522.0,259.5 L522.1,258.0Z M522.1,257.4 L523.3,258.4 L522.8,259.5 L521.4,259.6 L521.3,258.3Z M525.3,257.1 L524.4,257.2 L524.1,256.6 L524.4,255.9 L525.3,256.4Z M527.6,250.1 L528.0,251.0 L527.1,251.3 L526.6,251.0 L526.8,250.2Z M526.2,254.4 L526.7,253.7 L527.4,253.8 L527.4,254.9 L526.8,254.9Z M524.6,254.9 L526.3,254.2 L526.8,256.3 L525.8,257.2 L524.4,256.8Z M522.5,260.0 L521.3,259.5 L521.5,258.6 L522.4,258.1 L522.9,259.0Z M516.6,259.8 L517.6,260.8 L516.7,262.0 L515.5,261.7 L515.1,260.3Z M504.3,270.5 L505.6,269.3 L507.5,270.0 L507.2,271.5 L505.3,271.7Z M504.2,270.6 L504.3,269.8 L505.0,269.5 L505.7,270.3 L504.9,271.1Z M495.4,270.5 L494.7,271.0 L494.0,270.8 L493.9,270.0 L494.7,269.6Z M492.0,260.9 L493.0,259.4 L494.2,260.1 L494.4,261.7 L492.9,262.0Z M495.8,263.0 L496.5,264.6 L495.4,265.7 L493.8,265.0 L494.2,263.6Z M495.8,266.5 L495.7,267.7 L494.5,267.8 L494.0,266.8 L494.8,266.0Z M496.8,267.3 L496.8,269.2 L494.7,269.2 L494.0,267.9 L495.0,266.6Z M498.3,268.9 L498.1,270.3 L496.5,270.9 L495.9,269.2 L497.0,267.9Z M496.1,271.0 L497.2,271.3 L497.0,272.5 L495.8,272.6 L495.1,271.5Z M473.9,281.9 L475.0,281.7 L475.8,282.5 L475.0,283.2 L473.8,283.1Z M472.6,285.9 L473.0,284.3 L474.1,284.4 L475.2,285.4 L474.0,286.7Z M471.5,289.0 L470.8,290.1 L469.5,290.5 L469.1,288.9 L470.0,287.7Z M470.2,290.2 L470.1,292.0 L467.9,292.9 L467.3,290.8 L467.9,288.8Z M464.8,297.9 L464.9,299.0 L464.0,299.0 L463.7,298.2 L464.1,297.6Z" fill="#f46d43" stroke="#000" stroke-width="0.8" stroke-linejoin="round"/>
<path d="M455.6,398.0 L456.2,402.1 L457.3,398.0 M451.5,400.8 L453.5,404.3 L453.4,400.2 M449.3,404.2 L450.7,406.5 L450.7,403.7 M448.0,404.7 L449.0,408.7 L449.8,404.7 M447.2,405.6 L447.6,408.9 L448.7,405.8 M445.4,407.1 L446.5,409.8 L446.6,406.9 M443.9,406.0 L444.3,409.2 L446.2,406.6 M441.7,406.6 L443.8,409.7 L443.8,406.0 M440.3,410.5 L441.4,413.1 L442.3,410.4" fill="#fee08b" stroke="#000" stroke-width="0.7" stroke-linejoin="round"/>
<path d="M443.0,407.1 L443.0,402.9 L444.5,406.9 M441.8,409.4 L442.2,405.1 L443.5,409.2 M441.4,410.9 L441.6,408.4 L443.1,410.4 M438.4,414.1 L438.6,409.8 L440.1,413.8" fill="#fff" stroke="#000" stroke-width="0.7" stroke-linejoin="round"/>
<text x="182.2" y="30.2" font-size="18.67" letter-spacing="0.93" text-anchor="middle">Percent of Normal Precipitation</text>
<text x="182.2" y="52.7" font-size="18.67" letter-spacing="0.9" text-anchor="middle">July 2 - September 29, 2025</text>
<rect x="134" y="510" width="63" height="15.5" fill="#f46d43"/>
<rect x="197" y="510" width="63" height="15.5" fill="#fdae61"/>
<rect x="260" y="510" width="63" height="15.5" fill="#fee08b"/>
<rect x="323" y="510" width="63" height="15.5" fill="#d9f0d3"/>
<rect x="386" y="510" width="63" height="15.5" fill="#a6dba0"/>
<rect x="449" y="510" width="63" height="15.5" fill="#5aae61"/>
<path d="M134,510 L115.6,517.75 L134,525.5Z" fill="#d73027"/>
<path d="M512,510 L530.4,517.75 L512,525.5Z" fill="#1b7837"/>
<path d="M134,510 L115.6,517.75 L134,525.5 H512 L530.4,517.75 L512,510Z" fill="none" stroke="#000" stroke-width="0.9" stroke-linejoin="miter"/>
<path d="M134,525.5 V531.3" stroke="#000" stroke-width="0.9"/>
<text x="134" y="548.6" font-size="13.3" text-anchor="middle">25</text>
<path d="M197,525.5 V531.3" stroke="#000" stroke-width="0.9"/>
<text x="197" y="548.6" font-size="13.3" text-anchor="middle">50</text>
<path d="M260,525.5 V531.3" stroke="#000" stroke-width="0.9"/>
<text x="260" y="548.6" font-size="13.3" text-anchor="middle">75</text>
<path d="M323,525.5 V531.3" stroke="#000" stroke-width="0.9"/>
<text x="323" y="548.6" font-size="13.3" text-anchor="middle">100</text>
<path d="M386,525.5 V531.3" stroke="#000" stroke-width="0.9"/>
<text x="386" y="548.6" font-size="13.3" text-anchor="middle">125</text>
<path d="M449,525.5 V531.3" stroke="#000" stroke-width="0.9"/>
<text x="449" y="548.6" font-size="13.3" text-anchor="middle">150</text>
<path d="M512,525.5 V531.3" stroke="#000" stroke-width="0.9"/>
<text x="512" y="548.6" font-size="13.3" text-anchor="middle">200</text>
</svg></body></html>
